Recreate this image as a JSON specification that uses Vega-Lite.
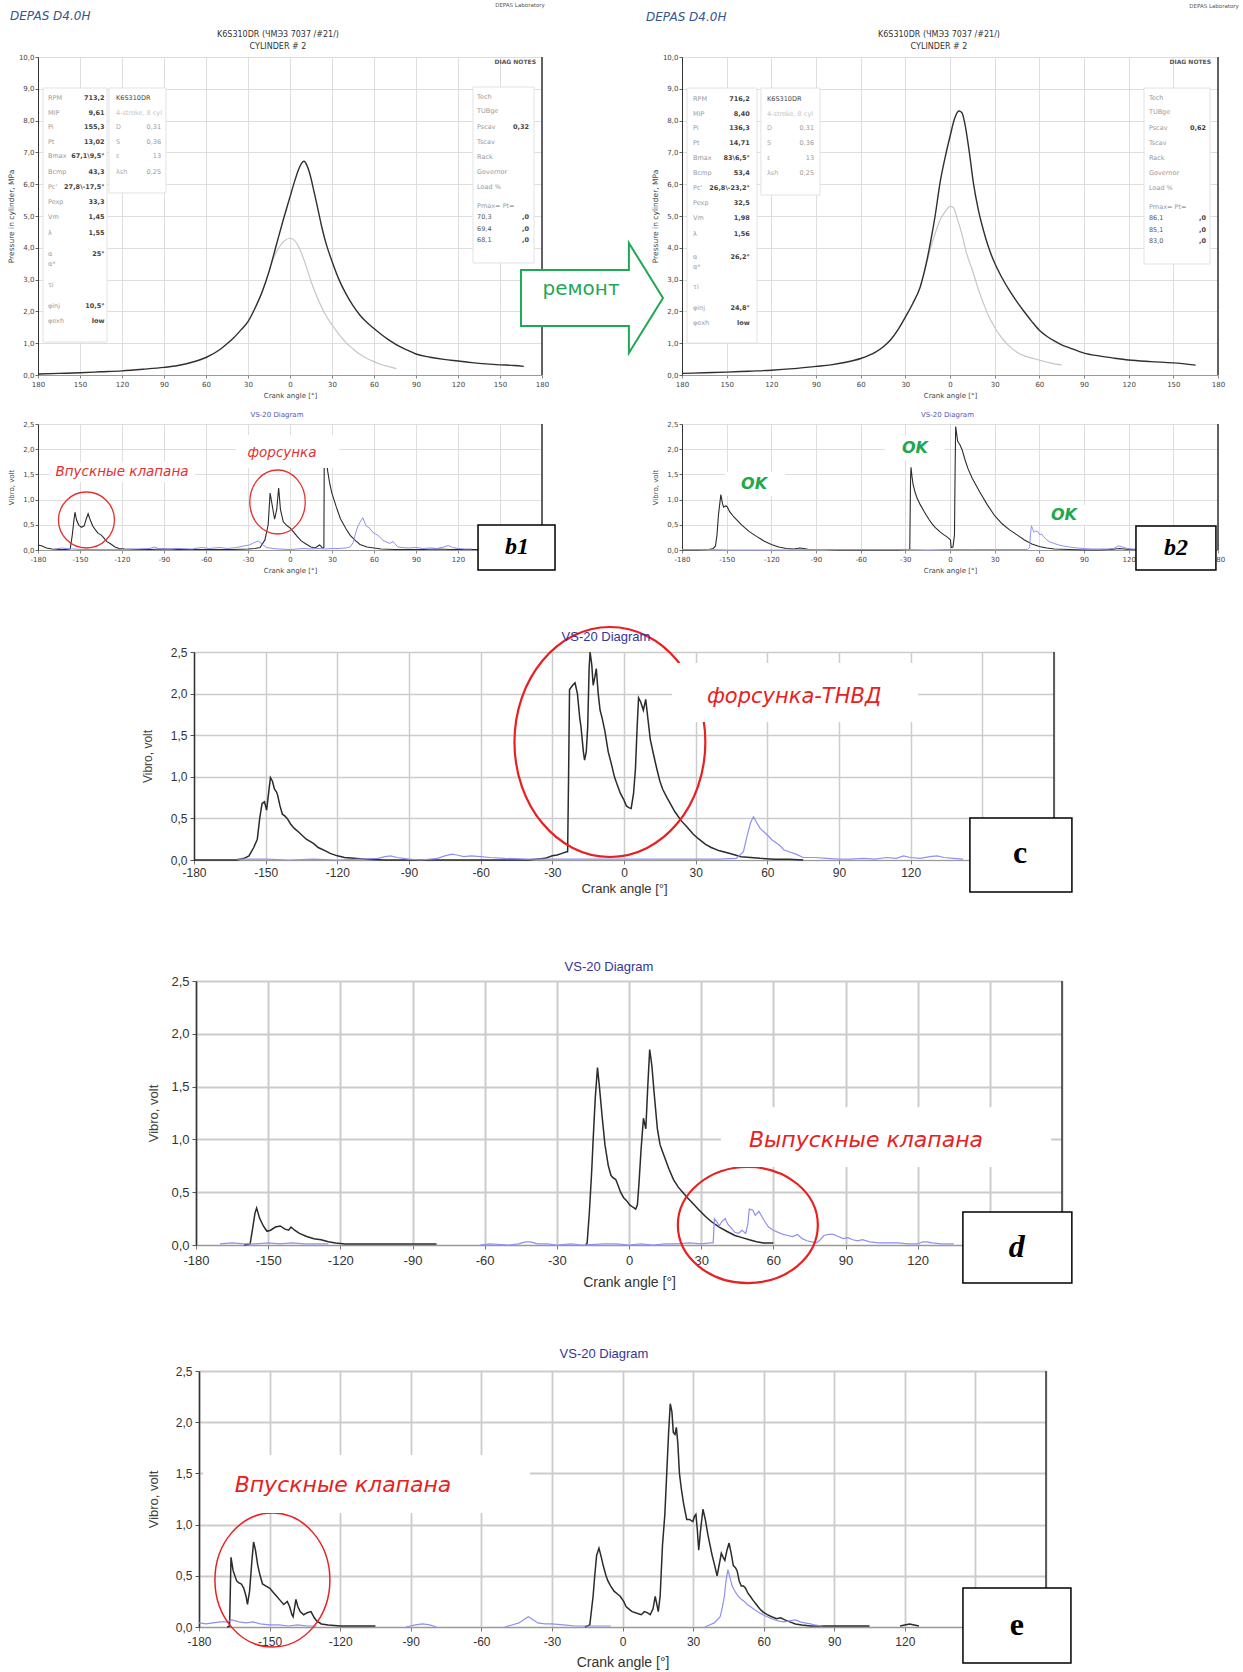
{
"$schema":"https://vega.github.io/schema/vega-lite/v6.json",
"autosize":{"type":"pad"},
"padding":{"left":7,"top":2,"right":2,"bottom":2},
"background":"white",
"config":{"view":{"stroke":null},"axis":{"labelFont":"DejaVu Sans","titleFont":"DejaVu Sans","titleFontWeight":"normal","labelFlush":false,"labelOverlap":false},"text":{"font":"DejaVu Sans"},"title":{"font":"DejaVu Sans","fontWeight":"normal"}},
"datasets":{
"one":[{}],
"p1":[
{"ch":"F","a":-180,"v":0.03},{"ch":"F","a":-165,"v":0.05},{"ch":"F","a":-150,"v":0.07},{"ch":"F","a":-135,"v":0.1},{"ch":"F","a":-120,"v":0.13},{"ch":"F","a":-105,"v":0.18},{"ch":"F","a":-90,"v":0.24},{"ch":"F","a":-80,"v":0.3},{"ch":"F","a":-70,"v":0.4},{"ch":"F","a":-60,"v":0.55},{"ch":"F","a":-50,"v":0.8},{"ch":"F","a":-45,"v":0.98},{"ch":"F","a":-40,"v":1.18},{"ch":"F","a":-35,"v":1.42},{"ch":"F","a":-30,"v":1.68},{"ch":"F","a":-25,"v":2.1},{"ch":"F","a":-20,"v":2.6},{"ch":"F","a":-15,"v":3.25},{"ch":"F","a":-10,"v":4.05},{"ch":"F","a":-5,"v":4.85},{"ch":"F","a":0,"v":5.6},{"ch":"F","a":3,"v":6.05},{"ch":"F","a":6,"v":6.45},{"ch":"F","a":9,"v":6.7},{"ch":"F","a":10,"v":6.72},{"ch":"F","a":12,"v":6.6},{"ch":"F","a":14,"v":6.35},{"ch":"F","a":17,"v":5.8},{"ch":"F","a":20,"v":5.2},{"ch":"F","a":23,"v":4.6},{"ch":"F","a":26,"v":4.1},{"ch":"F","a":30,"v":3.58},{"ch":"F","a":35,"v":3.0},{"ch":"F","a":40,"v":2.55},{"ch":"F","a":45,"v":2.18},{"ch":"F","a":50,"v":1.88},{"ch":"F","a":55,"v":1.65},{"ch":"F","a":60,"v":1.46},{"ch":"F","a":65,"v":1.28},{"ch":"F","a":70,"v":1.12},{"ch":"F","a":75,"v":0.98},{"ch":"F","a":80,"v":0.86},{"ch":"F","a":85,"v":0.76},{"ch":"F","a":90,"v":0.66},{"ch":"F","a":100,"v":0.56},{"ch":"F","a":110,"v":0.49},{"ch":"F","a":120,"v":0.44},{"ch":"F","a":130,"v":0.39},{"ch":"F","a":140,"v":0.35},{"ch":"F","a":150,"v":0.32},{"ch":"F","a":160,"v":0.3},{"ch":"F","a":167,"v":0.27},
{"ch":"M","a":-25,"v":2.1},{"ch":"M","a":-20,"v":2.6},{"ch":"M","a":-15,"v":3.25},{"ch":"M","a":-12,"v":3.65},{"ch":"M","a":-8,"v":4.0},{"ch":"M","a":-4,"v":4.22},{"ch":"M","a":0,"v":4.3},{"ch":"M","a":3,"v":4.24},{"ch":"M","a":6,"v":4.05},{"ch":"M","a":10,"v":3.62},{"ch":"M","a":15,"v":2.95},{"ch":"M","a":20,"v":2.38},{"ch":"M","a":25,"v":1.92},{"ch":"M","a":30,"v":1.58},{"ch":"M","a":35,"v":1.28},{"ch":"M","a":40,"v":1.02},{"ch":"M","a":45,"v":0.82},{"ch":"M","a":50,"v":0.65},{"ch":"M","a":55,"v":0.52},{"ch":"M","a":60,"v":0.42},{"ch":"M","a":65,"v":0.33},{"ch":"M","a":70,"v":0.27},{"ch":"M","a":76,"v":0.2}
],
"p2":[
{"ch":"F","a":-180,"v":0.05},{"ch":"F","a":-165,"v":0.07},{"ch":"F","a":-150,"v":0.09},{"ch":"F","a":-135,"v":0.12},{"ch":"F","a":-120,"v":0.15},{"ch":"F","a":-105,"v":0.2},{"ch":"F","a":-90,"v":0.27},{"ch":"F","a":-80,"v":0.32},{"ch":"F","a":-70,"v":0.4},{"ch":"F","a":-60,"v":0.52},{"ch":"F","a":-50,"v":0.72},{"ch":"F","a":-45,"v":0.88},{"ch":"F","a":-40,"v":1.1},{"ch":"F","a":-35,"v":1.42},{"ch":"F","a":-30,"v":1.82},{"ch":"F","a":-25,"v":2.25},{"ch":"F","a":-20,"v":2.77},{"ch":"F","a":-16,"v":3.5},{"ch":"F","a":-13,"v":4.2},{"ch":"F","a":-10,"v":5.0},{"ch":"F","a":-6.7,"v":6.04},{"ch":"F","a":-3,"v":6.9},{"ch":"F","a":0,"v":7.5},{"ch":"F","a":3,"v":8.05},{"ch":"F","a":6,"v":8.3},{"ch":"F","a":8,"v":8.25},{"ch":"F","a":10,"v":7.9},{"ch":"F","a":13,"v":7.0},{"ch":"F","a":15.7,"v":6.04},{"ch":"F","a":19,"v":5.2},{"ch":"F","a":22.4,"v":4.56},{"ch":"F","a":26,"v":4.0},{"ch":"F","a":30,"v":3.52},{"ch":"F","a":35,"v":3.05},{"ch":"F","a":40,"v":2.65},{"ch":"F","a":45,"v":2.3},{"ch":"F","a":50,"v":1.98},{"ch":"F","a":55,"v":1.68},{"ch":"F","a":60,"v":1.41},{"ch":"F","a":65,"v":1.22},{"ch":"F","a":70,"v":1.07},{"ch":"F","a":75,"v":0.95},{"ch":"F","a":80,"v":0.86},{"ch":"F","a":90,"v":0.69},{"ch":"F","a":100,"v":0.6},{"ch":"F","a":110,"v":0.53},{"ch":"F","a":120,"v":0.47},{"ch":"F","a":135,"v":0.42},{"ch":"F","a":150,"v":0.38},{"ch":"F","a":165,"v":0.31},
{"ch":"M","a":-20,"v":2.77},{"ch":"M","a":-16,"v":3.45},{"ch":"M","a":-13.4,"v":3.93},{"ch":"M","a":-10,"v":4.45},{"ch":"M","a":-6.7,"v":4.87},{"ch":"M","a":-3,"v":5.15},{"ch":"M","a":0,"v":5.3},{"ch":"M","a":2,"v":5.28},{"ch":"M","a":5,"v":4.9},{"ch":"M","a":7.8,"v":4.46},{"ch":"M","a":11,"v":3.85},{"ch":"M","a":15.7,"v":3.2},{"ch":"M","a":19,"v":2.7},{"ch":"M","a":22.4,"v":2.26},{"ch":"M","a":26,"v":1.85},{"ch":"M","a":30,"v":1.5},{"ch":"M","a":35,"v":1.15},{"ch":"M","a":40,"v":0.9},{"ch":"M","a":44.8,"v":0.72},{"ch":"M","a":50,"v":0.6},{"ch":"M","a":55,"v":0.53},{"ch":"M","a":60,"v":0.47},{"ch":"M","a":67,"v":0.38},{"ch":"M","a":75,"v":0.31}
],
"i1":[
{"box":"L","row":1,"label":"RPM","value":"713,2"},{"box":"L","row":2,"label":"MIP","value":"9,61"},{"box":"L","row":2.93,"label":"Pi","value":"155,3"},{"box":"L","row":3.93,"label":"Pt","value":"13,02"},{"box":"L","row":4.9,"label":"Bmax","value":"67,1\\9,5°"},{"box":"L","row":5.93,"label":"Bcmp","value":"43,3"},{"box":"L","row":6.93,"label":"Pc'","value":"27,8\\-17,5°"},{"box":"L","row":7.93,"label":"Pexp","value":"33,3"},{"box":"L","row":8.93,"label":"Vm","value":"1,45"},{"box":"L","row":10,"label":"λ","value":"1,55"},{"box":"L","row":11.4,"label":"α","value":"25°"},{"box":"L","row":12.1,"label":"α*","value":""},{"box":"L","row":13.5,"label":"τi","value":""},{"box":"L","row":14.9,"label":"φinj","value":"10,5°"},{"box":"L","row":15.9,"label":"φexh","value":"low"},
{"box":"M","row":1,"label":"K6S310DR","value":""},{"box":"M","row":2,"label":"4-stroke, 8 cyl","value":""},{"box":"M","row":2.93,"label":"D","value":"0,31"},{"box":"M","row":3.93,"label":"S","value":"0,36"},{"box":"M","row":4.9,"label":"ε","value":"13"},{"box":"M","row":5.93,"label":"λsh","value":"0,25"},
{"box":"R","row":0.95,"label":"Tech","value":""},{"box":"R","row":1.85,"label":"TUBge","value":""},{"box":"R","row":2.93,"label":"Pscav","value":"0,32"},{"box":"R","row":3.93,"label":"Tscav","value":""},{"box":"R","row":4.93,"label":"Rack","value":""},{"box":"R","row":5.93,"label":"Governor","value":""},{"box":"R","row":6.93,"label":"Load %","value":""},{"box":"R","row":8.2,"label":"Pmax=  Pt=","value":""},{"box":"R","row":8.95,"label":"70,3","value":",0"},{"box":"R","row":9.73,"label":"69,4","value":",0"},{"box":"R","row":10.47,"label":"68,1","value":",0"}
],
"i2":[
{"box":"L","row":1,"label":"RPM","value":"716,2"},{"box":"L","row":2,"label":"MIP","value":"8,40"},{"box":"L","row":2.93,"label":"Pi","value":"136,3"},{"box":"L","row":3.93,"label":"Pt","value":"14,71"},{"box":"L","row":4.9,"label":"Bmax","value":"83\\6,5°"},{"box":"L","row":5.93,"label":"Bcmp","value":"53,4"},{"box":"L","row":6.93,"label":"Pc'","value":"26,8\\-23,2°"},{"box":"L","row":7.93,"label":"Pexp","value":"32,5"},{"box":"L","row":8.93,"label":"Vm","value":"1,98"},{"box":"L","row":10,"label":"λ","value":"1,56"},{"box":"L","row":11.5,"label":"α","value":"26,2°"},{"box":"L","row":12.2,"label":"α*","value":""},{"box":"L","row":13.5,"label":"τi","value":""},{"box":"L","row":14.9,"label":"φinj","value":"24,8°"},{"box":"L","row":15.9,"label":"φexh","value":"low"},
{"box":"M","row":1,"label":"K6S310DR","value":""},{"box":"M","row":2,"label":"4-stroke, 8 cyl","value":""},{"box":"M","row":2.93,"label":"D","value":"0,31"},{"box":"M","row":3.93,"label":"S","value":"0,36"},{"box":"M","row":4.9,"label":"ε","value":"13"},{"box":"M","row":5.93,"label":"λsh","value":"0,25"},
{"box":"R","row":0.95,"label":"Tech","value":""},{"box":"R","row":1.85,"label":"TUBge","value":""},{"box":"R","row":2.93,"label":"Pscav","value":"0,62"},{"box":"R","row":3.93,"label":"Tscav","value":""},{"box":"R","row":4.93,"label":"Rack","value":""},{"box":"R","row":5.93,"label":"Governor","value":""},{"box":"R","row":6.93,"label":"Load %","value":""},{"box":"R","row":8.2,"label":"Pmax=  Pt=","value":""},{"box":"R","row":8.95,"label":"86,1","value":",0"},{"box":"R","row":9.73,"label":"85,1","value":",0"},{"box":"R","row":10.47,"label":"83,0","value":",0"}
],
"v1":[
{"ch":"A","seg":1,"a":-180,"v":0.1},{"ch":"A","seg":1,"a":-177,"v":0.08},{"ch":"A","seg":1,"a":-174,"v":0.04},{"ch":"A","seg":1,"a":-170,"v":0.02},{"ch":"A","seg":1,"a":-165,"v":0.01},{"ch":"A","seg":1,"a":-160,"v":0.01},{"ch":"A","seg":1,"a":-157,"v":0.02},{"ch":"A","seg":1,"a":-155.5,"v":0.3},{"ch":"A","seg":1,"a":-154.3,"v":0.6},{"ch":"A","seg":1,"a":-153.6,"v":0.75},{"ch":"A","seg":1,"a":-152.5,"v":0.6},{"ch":"A","seg":1,"a":-151,"v":0.5},{"ch":"A","seg":1,"a":-149,"v":0.45},{"ch":"A","seg":1,"a":-147,"v":0.48},{"ch":"A","seg":1,"a":-145.5,"v":0.62},{"ch":"A","seg":1,"a":-144.2,"v":0.72},{"ch":"A","seg":1,"a":-143,"v":0.62},{"ch":"A","seg":1,"a":-141,"v":0.48},{"ch":"A","seg":1,"a":-139,"v":0.4},{"ch":"A","seg":1,"a":-137,"v":0.33},{"ch":"A","seg":1,"a":-135,"v":0.3},{"ch":"A","seg":1,"a":-133,"v":0.24},{"ch":"A","seg":1,"a":-131,"v":0.17},{"ch":"A","seg":1,"a":-128,"v":0.12},{"ch":"A","seg":1,"a":-125,"v":0.06},{"ch":"A","seg":1,"a":-122,"v":0.03},{"ch":"A","seg":1,"a":-118,"v":0.02},{"ch":"A","seg":1,"a":-110,"v":0.01},{"ch":"A","seg":1,"a":-100,"v":0.01},{"ch":"A","seg":1,"a":-90,"v":0.02},{"ch":"A","seg":1,"a":-80,"v":0.01},{"ch":"A","seg":1,"a":-70,"v":0.01},{"ch":"A","seg":1,"a":-60,"v":0.01},{"ch":"A","seg":1,"a":-50,"v":0.01},{"ch":"A","seg":1,"a":-40,"v":0.01},{"ch":"A","seg":1,"a":-30,"v":0.02},{"ch":"A","seg":1,"a":-25,"v":0.03},{"ch":"A","seg":1,"a":-21.4,"v":0.05},{"ch":"A","seg":1,"a":-17.9,"v":0.2},{"ch":"A","seg":1,"a":-15.6,"v":0.5},{"ch":"A","seg":1,"a":-14.2,"v":1.13},{"ch":"A","seg":1,"a":-12.8,"v":0.9},{"ch":"A","seg":1,"a":-11,"v":0.61},{"ch":"A","seg":1,"a":-9.5,"v":0.8},{"ch":"A","seg":1,"a":-8.1,"v":1.23},{"ch":"A","seg":1,"a":-6.8,"v":0.8},{"ch":"A","seg":1,"a":-4.8,"v":0.56},{"ch":"A","seg":1,"a":-2,"v":0.48},{"ch":"A","seg":1,"a":0,"v":0.44},{"ch":"A","seg":1,"a":2.5,"v":0.36},{"ch":"A","seg":1,"a":4.8,"v":0.28},{"ch":"A","seg":1,"a":8,"v":0.18},{"ch":"A","seg":1,"a":12,"v":0.11},{"ch":"A","seg":1,"a":15,"v":0.06},{"ch":"A","seg":1,"a":18,"v":0.04},{"ch":"A","seg":1,"a":20,"v":0.08},{"ch":"A","seg":1,"a":21,"v":0.1},{"ch":"A","seg":1,"a":22,"v":0.08},{"ch":"A","seg":1,"a":22.9,"v":0.04},{"ch":"A","seg":1,"a":24.2,"v":0.05},{"ch":"A","seg":1,"a":24.5,"v":2.0},{"ch":"A","seg":1,"a":25.5,"v":1.85},{"ch":"A","seg":1,"a":27,"v":1.55},{"ch":"A","seg":1,"a":28.5,"v":1.3},{"ch":"A","seg":1,"a":30,"v":1.12},{"ch":"A","seg":1,"a":33,"v":0.86},{"ch":"A","seg":1,"a":36,"v":0.62},{"ch":"A","seg":1,"a":40,"v":0.42},{"ch":"A","seg":1,"a":43,"v":0.29},{"ch":"A","seg":1,"a":47,"v":0.18},{"ch":"A","seg":1,"a":50,"v":0.11},{"ch":"A","seg":1,"a":55,"v":0.06},{"ch":"A","seg":1,"a":60,"v":0.04},{"ch":"A","seg":1,"a":65,"v":0.02},{"ch":"A","seg":1,"a":75,"v":0.01},{"ch":"A","seg":1,"a":85,"v":0.01},{"ch":"A","seg":1,"a":95,"v":0.01},{"ch":"A","seg":1,"a":105,"v":0.02},{"ch":"A","seg":1,"a":115,"v":0.01},{"ch":"A","seg":1,"a":125,"v":0.01},{"ch":"A","seg":1,"a":135,"v":0.01},
{"ch":"B","seg":1,"a":-168,"v":0.02},{"ch":"B","seg":1,"a":-163,"v":0.04},{"ch":"B","seg":1,"a":-160,"v":0.03},{"ch":"B","seg":1,"a":-155,"v":0.02},{"ch":"B","seg":1,"a":-150,"v":0.01},{"ch":"B","seg":1,"a":-140,"v":0.01},{"ch":"B","seg":1,"a":-130,"v":0.01},{"ch":"B","seg":1,"a":-120,"v":0.01},{"ch":"B","seg":1,"a":-110,"v":0.02},{"ch":"B","seg":1,"a":-100,"v":0.03},{"ch":"B","seg":1,"a":-97,"v":0.06},{"ch":"B","seg":1,"a":-94,"v":0.03},{"ch":"B","seg":1,"a":-88,"v":0.02},{"ch":"B","seg":1,"a":-80,"v":0.03},{"ch":"B","seg":1,"a":-70,"v":0.02},{"ch":"B","seg":1,"a":-63,"v":0.05},{"ch":"B","seg":1,"a":-58,"v":0.03},{"ch":"B","seg":1,"a":-50,"v":0.05},{"ch":"B","seg":1,"a":-45,"v":0.03},{"ch":"B","seg":1,"a":-38,"v":0.05},{"ch":"B","seg":1,"a":-33,"v":0.08},{"ch":"B","seg":1,"a":-29,"v":0.1},{"ch":"B","seg":1,"a":-26,"v":0.14},{"ch":"B","seg":1,"a":-22.8,"v":0.18},{"ch":"B","seg":1,"a":-20,"v":0.12},{"ch":"B","seg":1,"a":-17,"v":0.05},{"ch":"B","seg":1,"a":-12,"v":0.03},{"ch":"B","seg":1,"a":-8,"v":0.02},{"ch":"B","seg":1,"a":0,"v":0.01},{"ch":"B","seg":1,"a":5,"v":0.02},{"ch":"B","seg":1,"a":10,"v":0.03},{"ch":"B","seg":1,"a":15,"v":0.02},{"ch":"B","seg":1,"a":20,"v":0.03},{"ch":"B","seg":1,"a":25,"v":0.02},{"ch":"B","seg":1,"a":30,"v":0.03},{"ch":"B","seg":1,"a":35,"v":0.03},{"ch":"B","seg":1,"a":40,"v":0.04},{"ch":"B","seg":1,"a":43,"v":0.06},{"ch":"B","seg":1,"a":45.2,"v":0.15},{"ch":"B","seg":1,"a":47,"v":0.35},{"ch":"B","seg":1,"a":48.6,"v":0.48},{"ch":"B","seg":1,"a":50,"v":0.55},{"ch":"B","seg":1,"a":52,"v":0.64},{"ch":"B","seg":1,"a":54.3,"v":0.48},{"ch":"B","seg":1,"a":57,"v":0.43},{"ch":"B","seg":1,"a":58.7,"v":0.36},{"ch":"B","seg":1,"a":61,"v":0.32},{"ch":"B","seg":1,"a":63.3,"v":0.28},{"ch":"B","seg":1,"a":66,"v":0.2},{"ch":"B","seg":1,"a":68,"v":0.17},{"ch":"B","seg":1,"a":71.3,"v":0.13},{"ch":"B","seg":1,"a":73.6,"v":0.17},{"ch":"B","seg":1,"a":75,"v":0.12},{"ch":"B","seg":1,"a":77,"v":0.06},{"ch":"B","seg":1,"a":80,"v":0.05},{"ch":"B","seg":1,"a":85,"v":0.04},{"ch":"B","seg":1,"a":90,"v":0.05},{"ch":"B","seg":1,"a":95,"v":0.03},{"ch":"B","seg":1,"a":100,"v":0.04},{"ch":"B","seg":1,"a":105,"v":0.03},{"ch":"B","seg":1,"a":110,"v":0.06},{"ch":"B","seg":1,"a":113,"v":0.09},{"ch":"B","seg":1,"a":116,"v":0.05},{"ch":"B","seg":1,"a":120,"v":0.03},{"ch":"B","seg":1,"a":125,"v":0.02},{"ch":"B","seg":1,"a":130,"v":0.02}
],
"v2":[
{"ch":"A","seg":1,"a":-180,"v":0},{"ch":"A","seg":1,"a":-170,"v":0},{"ch":"A","seg":1,"a":-162,"v":0.01},{"ch":"A","seg":1,"a":-159,"v":0.03},{"ch":"A","seg":1,"a":-157.5,"v":0.08},{"ch":"A","seg":1,"a":-156.5,"v":0.3},{"ch":"A","seg":1,"a":-155.5,"v":0.7},{"ch":"A","seg":1,"a":-154.5,"v":0.95},{"ch":"A","seg":1,"a":-153.9,"v":1.1},{"ch":"A","seg":1,"a":-152.8,"v":0.92},{"ch":"A","seg":1,"a":-152,"v":0.85},{"ch":"A","seg":1,"a":-150.5,"v":0.88},{"ch":"A","seg":1,"a":-149.5,"v":0.85},{"ch":"A","seg":1,"a":-148,"v":0.76},{"ch":"A","seg":1,"a":-145,"v":0.65},{"ch":"A","seg":1,"a":-140,"v":0.5},{"ch":"A","seg":1,"a":-135,"v":0.37},{"ch":"A","seg":1,"a":-130,"v":0.27},{"ch":"A","seg":1,"a":-125,"v":0.18},{"ch":"A","seg":1,"a":-120,"v":0.11},{"ch":"A","seg":1,"a":-115,"v":0.06},{"ch":"A","seg":1,"a":-110,"v":0.03},{"ch":"A","seg":1,"a":-105,"v":0.02},{"ch":"A","seg":1,"a":-101,"v":0.04},{"ch":"A","seg":1,"a":-98,"v":0.03},{"ch":"A","seg":1,"a":-95,"v":0.01},{"ch":"A","seg":1,"a":-85,"v":0.01},{"ch":"A","seg":1,"a":-75,"v":0},{"ch":"A","seg":1,"a":-60,"v":0},{"ch":"A","seg":1,"a":-45,"v":0},{"ch":"A","seg":1,"a":-35,"v":0},{"ch":"A","seg":1,"a":-28,"v":0.01},{"ch":"A","seg":1,"a":-27,"v":0.02},{"ch":"A","seg":1,"a":-26.8,"v":0.6},{"ch":"A","seg":1,"a":-26.5,"v":1.4},{"ch":"A","seg":1,"a":-26.2,"v":1.64},{"ch":"A","seg":1,"a":-25.5,"v":1.45},{"ch":"A","seg":1,"a":-24.8,"v":1.3},{"ch":"A","seg":1,"a":-23.5,"v":1.15},{"ch":"A","seg":1,"a":-22,"v":1.02},{"ch":"A","seg":1,"a":-20,"v":0.9},{"ch":"A","seg":1,"a":-17.3,"v":0.76},{"ch":"A","seg":1,"a":-14,"v":0.6},{"ch":"A","seg":1,"a":-12,"v":0.52},{"ch":"A","seg":1,"a":-10,"v":0.45},{"ch":"A","seg":1,"a":-6.7,"v":0.36},{"ch":"A","seg":1,"a":-4,"v":0.3},{"ch":"A","seg":1,"a":-2,"v":0.26},{"ch":"A","seg":1,"a":-0.8,"v":0.23},{"ch":"A","seg":1,"a":0.3,"v":0.2},{"ch":"A","seg":1,"a":0.8,"v":0.05},{"ch":"A","seg":1,"a":2,"v":0.06},{"ch":"A","seg":1,"a":3,"v":0.3},{"ch":"A","seg":1,"a":3.4,"v":1.5},{"ch":"A","seg":1,"a":3.8,"v":2.45},{"ch":"A","seg":1,"a":4.5,"v":2.3},{"ch":"A","seg":1,"a":5.2,"v":2.15},{"ch":"A","seg":1,"a":6.5,"v":2.1},{"ch":"A","seg":1,"a":8,"v":2.0},{"ch":"A","seg":1,"a":10,"v":1.8},{"ch":"A","seg":1,"a":12,"v":1.62},{"ch":"A","seg":1,"a":15,"v":1.42},{"ch":"A","seg":1,"a":20,"v":1.15},{"ch":"A","seg":1,"a":25,"v":0.9},{"ch":"A","seg":1,"a":30,"v":0.68},{"ch":"A","seg":1,"a":35,"v":0.52},{"ch":"A","seg":1,"a":40,"v":0.4},{"ch":"A","seg":1,"a":45,"v":0.3},{"ch":"A","seg":1,"a":50,"v":0.2},{"ch":"A","seg":1,"a":55,"v":0.12},{"ch":"A","seg":1,"a":60,"v":0.07},{"ch":"A","seg":1,"a":65,"v":0.04},{"ch":"A","seg":1,"a":70,"v":0.02},{"ch":"A","seg":1,"a":80,"v":0.01},{"ch":"A","seg":1,"a":90,"v":0},{"ch":"A","seg":1,"a":100,"v":0},{"ch":"A","seg":1,"a":108,"v":0.01},{"ch":"A","seg":1,"a":114,"v":0.03},{"ch":"A","seg":1,"a":117,"v":0.02},{"ch":"A","seg":1,"a":120,"v":0.01},{"ch":"A","seg":1,"a":130,"v":0},
{"ch":"B","seg":1,"a":-180,"v":0.01},{"ch":"B","seg":1,"a":-172,"v":0.01},{"ch":"B","seg":1,"a":-165,"v":0.01},{"ch":"B","seg":1,"a":-150,"v":0},{"ch":"B","seg":1,"a":-130,"v":0},{"ch":"B","seg":1,"a":-110,"v":0},{"ch":"B","seg":1,"a":-90,"v":0.01},{"ch":"B","seg":1,"a":-75,"v":0.01},{"ch":"B","seg":1,"a":-60,"v":0.01},{"ch":"B","seg":1,"a":-45,"v":0.01},{"ch":"B","seg":1,"a":-30,"v":0.01},{"ch":"B","seg":1,"a":-15,"v":0},{"ch":"B","seg":1,"a":0,"v":0.01},{"ch":"B","seg":1,"a":15,"v":0.01},{"ch":"B","seg":1,"a":30,"v":0.01},{"ch":"B","seg":1,"a":45,"v":0.01},{"ch":"B","seg":1,"a":52,"v":0.01},{"ch":"B","seg":1,"a":53.5,"v":0.05},{"ch":"B","seg":1,"a":54,"v":0.3},{"ch":"B","seg":1,"a":54.7,"v":0.48},{"ch":"B","seg":1,"a":55.5,"v":0.42},{"ch":"B","seg":1,"a":56.5,"v":0.35},{"ch":"B","seg":1,"a":57.5,"v":0.38},{"ch":"B","seg":1,"a":59,"v":0.36},{"ch":"B","seg":1,"a":60.5,"v":0.3},{"ch":"B","seg":1,"a":61.5,"v":0.32},{"ch":"B","seg":1,"a":63,"v":0.26},{"ch":"B","seg":1,"a":65,"v":0.2},{"ch":"B","seg":1,"a":67,"v":0.16},{"ch":"B","seg":1,"a":70,"v":0.13},{"ch":"B","seg":1,"a":73,"v":0.1},{"ch":"B","seg":1,"a":76,"v":0.08},{"ch":"B","seg":1,"a":80,"v":0.06},{"ch":"B","seg":1,"a":85,"v":0.04},{"ch":"B","seg":1,"a":90,"v":0.03},{"ch":"B","seg":1,"a":95,"v":0.02},{"ch":"B","seg":1,"a":100,"v":0.02},{"ch":"B","seg":1,"a":105,"v":0.02},{"ch":"B","seg":1,"a":110,"v":0.03},{"ch":"B","seg":1,"a":113,"v":0.08},{"ch":"B","seg":1,"a":116,"v":0.06},{"ch":"B","seg":1,"a":119,"v":0.03},{"ch":"B","seg":1,"a":123,"v":0.02},{"ch":"B","seg":1,"a":130,"v":0.01}
],
"vc":[
{"ch":"A","seg":1,"a":-180,"v":0},{"ch":"A","seg":1,"a":-170,"v":0},{"ch":"A","seg":1,"a":-162,"v":0},{"ch":"A","seg":1,"a":-159,"v":0.02},{"ch":"A","seg":1,"a":-157,"v":0.05},{"ch":"A","seg":1,"a":-155,"v":0.15},{"ch":"A","seg":1,"a":-153.5,"v":0.25},{"ch":"A","seg":1,"a":-152.5,"v":0.5},{"ch":"A","seg":1,"a":-151.5,"v":0.68},{"ch":"A","seg":1,"a":-150.5,"v":0.7},{"ch":"A","seg":1,"a":-149.6,"v":0.6},{"ch":"A","seg":1,"a":-149,"v":0.75},{"ch":"A","seg":1,"a":-148,"v":0.99},{"ch":"A","seg":1,"a":-147.2,"v":0.95},{"ch":"A","seg":1,"a":-146.3,"v":0.85},{"ch":"A","seg":1,"a":-145.5,"v":0.82},{"ch":"A","seg":1,"a":-145,"v":0.78},{"ch":"A","seg":1,"a":-144,"v":0.65},{"ch":"A","seg":1,"a":-143,"v":0.55},{"ch":"A","seg":1,"a":-142,"v":0.53},{"ch":"A","seg":1,"a":-141,"v":0.5},{"ch":"A","seg":1,"a":-139.5,"v":0.43},{"ch":"A","seg":1,"a":-138,"v":0.38},{"ch":"A","seg":1,"a":-136,"v":0.33},{"ch":"A","seg":1,"a":-133,"v":0.25},{"ch":"A","seg":1,"a":-130,"v":0.2},{"ch":"A","seg":1,"a":-128,"v":0.15},{"ch":"A","seg":1,"a":-125,"v":0.11},{"ch":"A","seg":1,"a":-123,"v":0.08},{"ch":"A","seg":1,"a":-120,"v":0.05},{"ch":"A","seg":1,"a":-117,"v":0.03},{"ch":"A","seg":1,"a":-113,"v":0.02},{"ch":"A","seg":1,"a":-108,"v":0.01},{"ch":"A","seg":1,"a":-100,"v":0},{"ch":"A","seg":1,"a":-90,"v":0},{"ch":"A","seg":1,"a":-80,"v":0},{"ch":"A","seg":1,"a":-70,"v":0},{"ch":"A","seg":1,"a":-60,"v":0},{"ch":"A","seg":1,"a":-50,"v":0},{"ch":"A","seg":1,"a":-40,"v":0},{"ch":"A","seg":1,"a":-33,"v":0.02},{"ch":"A","seg":1,"a":-30,"v":0.05},{"ch":"A","seg":1,"a":-28,"v":0.06},{"ch":"A","seg":1,"a":-26,"v":0.08},{"ch":"A","seg":1,"a":-24,"v":0.1},{"ch":"A","seg":1,"a":-23.6,"v":0.1},{"ch":"A","seg":1,"a":-23.2,"v":1.0},{"ch":"A","seg":1,"a":-22.8,"v":2.05},{"ch":"A","seg":1,"a":-21.5,"v":2.1},{"ch":"A","seg":1,"a":-20.5,"v":2.13},{"ch":"A","seg":1,"a":-19.5,"v":2.0},{"ch":"A","seg":1,"a":-18.5,"v":1.7},{"ch":"A","seg":1,"a":-18,"v":1.6},{"ch":"A","seg":1,"a":-17,"v":1.3},{"ch":"A","seg":1,"a":-16.5,"v":1.2},{"ch":"A","seg":1,"a":-15.8,"v":1.3},{"ch":"A","seg":1,"a":-15.2,"v":1.6},{"ch":"A","seg":1,"a":-14.6,"v":2.3},{"ch":"A","seg":1,"a":-14.2,"v":2.5},{"ch":"A","seg":1,"a":-13.5,"v":2.35},{"ch":"A","seg":1,"a":-12.9,"v":2.1},{"ch":"A","seg":1,"a":-12.2,"v":2.2},{"ch":"A","seg":1,"a":-11.6,"v":2.3},{"ch":"A","seg":1,"a":-10.8,"v":2.0},{"ch":"A","seg":1,"a":-10,"v":1.8},{"ch":"A","seg":1,"a":-9.1,"v":1.7},{"ch":"A","seg":1,"a":-8,"v":1.55},{"ch":"A","seg":1,"a":-6.6,"v":1.3},{"ch":"A","seg":1,"a":-5.5,"v":1.18},{"ch":"A","seg":1,"a":-4,"v":1.0},{"ch":"A","seg":1,"a":-2.8,"v":0.9},{"ch":"A","seg":1,"a":-1.5,"v":0.8},{"ch":"A","seg":1,"a":0,"v":0.72},{"ch":"A","seg":1,"a":1,"v":0.65},{"ch":"A","seg":1,"a":2,"v":0.63},{"ch":"A","seg":1,"a":3,"v":0.62},{"ch":"A","seg":1,"a":4,"v":0.8},{"ch":"A","seg":1,"a":4.8,"v":1.1},{"ch":"A","seg":1,"a":5.5,"v":1.6},{"ch":"A","seg":1,"a":6.1,"v":1.95},{"ch":"A","seg":1,"a":7,"v":1.9},{"ch":"A","seg":1,"a":8.1,"v":1.8},{"ch":"A","seg":1,"a":9.1,"v":1.93},{"ch":"A","seg":1,"a":10,"v":1.7},{"ch":"A","seg":1,"a":11,"v":1.45},{"ch":"A","seg":1,"a":12.5,"v":1.25},{"ch":"A","seg":1,"a":13.7,"v":1.1},{"ch":"A","seg":1,"a":15,"v":0.95},{"ch":"A","seg":1,"a":16.2,"v":0.85},{"ch":"A","seg":1,"a":18,"v":0.75},{"ch":"A","seg":1,"a":21.3,"v":0.58},{"ch":"A","seg":1,"a":24,"v":0.47},{"ch":"A","seg":1,"a":26.3,"v":0.4},{"ch":"A","seg":1,"a":29,"v":0.31},{"ch":"A","seg":1,"a":31.4,"v":0.25},{"ch":"A","seg":1,"a":34,"v":0.19},{"ch":"A","seg":1,"a":36.5,"v":0.15},{"ch":"A","seg":1,"a":40,"v":0.11},{"ch":"A","seg":1,"a":44,"v":0.08},{"ch":"A","seg":1,"a":49,"v":0.04},{"ch":"A","seg":1,"a":53,"v":0.03},{"ch":"A","seg":1,"a":57,"v":0.02},{"ch":"A","seg":1,"a":63,"v":0.01},{"ch":"A","seg":1,"a":69,"v":0.01},{"ch":"A","seg":1,"a":75,"v":0},
{"ch":"B","seg":1,"a":-162,"v":0.01},{"ch":"B","seg":1,"a":-150,"v":0.01},{"ch":"B","seg":1,"a":-140,"v":0},{"ch":"B","seg":1,"a":-130,"v":0.01},{"ch":"B","seg":1,"a":-120,"v":0},{"ch":"B","seg":1,"a":-110,"v":0.01},{"ch":"B","seg":1,"a":-103,"v":0.02},{"ch":"B","seg":1,"a":-100,"v":0.04},{"ch":"B","seg":1,"a":-97.7,"v":0.05},{"ch":"B","seg":1,"a":-95,"v":0.03},{"ch":"B","seg":1,"a":-90,"v":0.01},{"ch":"B","seg":1,"a":-85,"v":0},{"ch":"B","seg":1,"a":-78,"v":0.02},{"ch":"B","seg":1,"a":-75,"v":0.05},{"ch":"B","seg":1,"a":-72,"v":0.07},{"ch":"B","seg":1,"a":-70,"v":0.06},{"ch":"B","seg":1,"a":-67,"v":0.04},{"ch":"B","seg":1,"a":-64,"v":0.05},{"ch":"B","seg":1,"a":-60,"v":0.04},{"ch":"B","seg":1,"a":-56,"v":0.03},{"ch":"B","seg":1,"a":-50,"v":0.02},{"ch":"B","seg":1,"a":-40,"v":0.01},{"ch":"B","seg":1,"a":-30,"v":0.01},{"ch":"B","seg":1,"a":-20,"v":0.01},{"ch":"B","seg":1,"a":-10,"v":0.01},{"ch":"B","seg":1,"a":0,"v":0.01},{"ch":"B","seg":1,"a":10,"v":0.01},{"ch":"B","seg":1,"a":20,"v":0.01},{"ch":"B","seg":1,"a":30,"v":0.01},{"ch":"B","seg":1,"a":40,"v":0.01},{"ch":"B","seg":1,"a":47,"v":0.02},{"ch":"B","seg":1,"a":50,"v":0.1},{"ch":"B","seg":1,"a":51.6,"v":0.3},{"ch":"B","seg":1,"a":53,"v":0.45},{"ch":"B","seg":1,"a":54.2,"v":0.52},{"ch":"B","seg":1,"a":55.5,"v":0.45},{"ch":"B","seg":1,"a":57,"v":0.38},{"ch":"B","seg":1,"a":58.5,"v":0.34},{"ch":"B","seg":1,"a":60,"v":0.3},{"ch":"B","seg":1,"a":62,"v":0.24},{"ch":"B","seg":1,"a":65,"v":0.18},{"ch":"B","seg":1,"a":67,"v":0.12},{"ch":"B","seg":1,"a":70,"v":0.09},{"ch":"B","seg":1,"a":72,"v":0.07},{"ch":"B","seg":1,"a":75,"v":0.03},{"ch":"B","seg":1,"a":80,"v":0.03},{"ch":"B","seg":1,"a":85,"v":0.02},{"ch":"B","seg":1,"a":90,"v":0.01},{"ch":"B","seg":1,"a":95,"v":0.01},{"ch":"B","seg":1,"a":100,"v":0.02},{"ch":"B","seg":1,"a":105,"v":0.01},{"ch":"B","seg":1,"a":110,"v":0.03},{"ch":"B","seg":1,"a":114,"v":0.02},{"ch":"B","seg":1,"a":117,"v":0.05},{"ch":"B","seg":1,"a":120,"v":0.03},{"ch":"B","seg":1,"a":124,"v":0.02},{"ch":"B","seg":1,"a":128,"v":0.04},{"ch":"B","seg":1,"a":131,"v":0.05},{"ch":"B","seg":1,"a":134,"v":0.03},{"ch":"B","seg":1,"a":138,"v":0.02},{"ch":"B","seg":1,"a":142,"v":0.01}
],
"vd":[
{"ch":"A","seg":1,"a":-160,"v":0},{"ch":"A","seg":1,"a":-157.5,"v":0.01},{"ch":"A","seg":1,"a":-156.5,"v":0.15},{"ch":"A","seg":1,"a":-155.5,"v":0.3},{"ch":"A","seg":1,"a":-154.8,"v":0.35},{"ch":"A","seg":1,"a":-153.5,"v":0.25},{"ch":"A","seg":1,"a":-152,"v":0.18},{"ch":"A","seg":1,"a":-150.5,"v":0.13},{"ch":"A","seg":1,"a":-149,"v":0.14},{"ch":"A","seg":1,"a":-147,"v":0.17},{"ch":"A","seg":1,"a":-145,"v":0.18},{"ch":"A","seg":1,"a":-143,"v":0.15},{"ch":"A","seg":1,"a":-141.5,"v":0.14},{"ch":"A","seg":1,"a":-140.5,"v":0.17},{"ch":"A","seg":1,"a":-139,"v":0.14},{"ch":"A","seg":1,"a":-137,"v":0.11},{"ch":"A","seg":1,"a":-134,"v":0.08},{"ch":"A","seg":1,"a":-131,"v":0.06},{"ch":"A","seg":1,"a":-128,"v":0.05},{"ch":"A","seg":1,"a":-125,"v":0.03},{"ch":"A","seg":1,"a":-122,"v":0.02},{"ch":"A","seg":1,"a":-118,"v":0.01},{"ch":"A","seg":1,"a":-110,"v":0.01},{"ch":"A","seg":1,"a":-100,"v":0.01},{"ch":"A","seg":1,"a":-90,"v":0.01},{"ch":"A","seg":1,"a":-80,"v":0.01},
{"ch":"A","seg":2,"a":-18,"v":0},{"ch":"A","seg":2,"a":-17.4,"v":0.02},{"ch":"A","seg":2,"a":-16.5,"v":0.3},{"ch":"A","seg":2,"a":-15.5,"v":0.7},{"ch":"A","seg":2,"a":-14.9,"v":1.0},{"ch":"A","seg":2,"a":-14,"v":1.4},{"ch":"A","seg":2,"a":-13.1,"v":1.68},{"ch":"A","seg":2,"a":-12.3,"v":1.5},{"ch":"A","seg":2,"a":-11.1,"v":1.2},{"ch":"A","seg":2,"a":-10,"v":0.95},{"ch":"A","seg":2,"a":-8.6,"v":0.75},{"ch":"A","seg":2,"a":-7.5,"v":0.66},{"ch":"A","seg":2,"a":-6.8,"v":0.64},{"ch":"A","seg":2,"a":-5.5,"v":0.62},{"ch":"A","seg":2,"a":-4.8,"v":0.58},{"ch":"A","seg":2,"a":-3.5,"v":0.5},{"ch":"A","seg":2,"a":-2.3,"v":0.45},{"ch":"A","seg":2,"a":-1,"v":0.42},{"ch":"A","seg":2,"a":0.3,"v":0.38},{"ch":"A","seg":2,"a":1.5,"v":0.36},{"ch":"A","seg":2,"a":2.8,"v":0.34},{"ch":"A","seg":2,"a":3.5,"v":0.38},{"ch":"A","seg":2,"a":4.2,"v":0.6},{"ch":"A","seg":2,"a":5,"v":0.9},{"ch":"A","seg":2,"a":6,"v":1.2},{"ch":"A","seg":2,"a":6.5,"v":1.15},{"ch":"A","seg":2,"a":7,"v":1.1},{"ch":"A","seg":2,"a":7.8,"v":1.5},{"ch":"A","seg":2,"a":8.6,"v":1.85},{"ch":"A","seg":2,"a":9.5,"v":1.7},{"ch":"A","seg":2,"a":10.6,"v":1.4},{"ch":"A","seg":2,"a":11.8,"v":1.1},{"ch":"A","seg":2,"a":12.9,"v":0.95},{"ch":"A","seg":2,"a":14,"v":0.88},{"ch":"A","seg":2,"a":15.3,"v":0.8},{"ch":"A","seg":2,"a":16.6,"v":0.72},{"ch":"A","seg":2,"a":18.5,"v":0.62},{"ch":"A","seg":2,"a":20.4,"v":0.55},{"ch":"A","seg":2,"a":22.3,"v":0.5},{"ch":"A","seg":2,"a":24.2,"v":0.45},{"ch":"A","seg":2,"a":26.7,"v":0.39},{"ch":"A","seg":2,"a":29.2,"v":0.33},{"ch":"A","seg":2,"a":31.8,"v":0.27},{"ch":"A","seg":2,"a":34.3,"v":0.22},{"ch":"A","seg":2,"a":37.5,"v":0.17},{"ch":"A","seg":2,"a":40.6,"v":0.13},{"ch":"A","seg":2,"a":44,"v":0.09},{"ch":"A","seg":2,"a":47,"v":0.07},{"ch":"A","seg":2,"a":50,"v":0.05},{"ch":"A","seg":2,"a":53,"v":0.03},{"ch":"A","seg":2,"a":56,"v":0.02},{"ch":"A","seg":2,"a":60,"v":0.02},
{"ch":"B","seg":1,"a":-170,"v":0.01},{"ch":"B","seg":1,"a":-165,"v":0.02},{"ch":"B","seg":1,"a":-160,"v":0.01},{"ch":"B","seg":1,"a":-155,"v":0.01},{"ch":"B","seg":1,"a":-150,"v":0.02},{"ch":"B","seg":1,"a":-145,"v":0.01},{"ch":"B","seg":1,"a":-140,"v":0.02},{"ch":"B","seg":1,"a":-135,"v":0.01},{"ch":"B","seg":1,"a":-130,"v":0.01},{"ch":"B","seg":1,"a":-125,"v":0.01},
{"ch":"B","seg":2,"a":-62,"v":0},{"ch":"B","seg":2,"a":-58,"v":0.01},{"ch":"B","seg":2,"a":-50,"v":0},{"ch":"B","seg":2,"a":-46,"v":0.01},{"ch":"B","seg":2,"a":-43,"v":0.03},{"ch":"B","seg":2,"a":-41,"v":0.03},{"ch":"B","seg":2,"a":-38,"v":0.01},{"ch":"B","seg":2,"a":-34,"v":0.01},{"ch":"B","seg":2,"a":-30,"v":0},{"ch":"B","seg":2,"a":-24,"v":0.01},{"ch":"B","seg":2,"a":-20,"v":0},{"ch":"B","seg":2,"a":-10,"v":0.01},{"ch":"B","seg":2,"a":-5,"v":0.01},{"ch":"B","seg":2,"a":0,"v":0},{"ch":"B","seg":2,"a":5,"v":0.01},{"ch":"B","seg":2,"a":10,"v":0},{"ch":"B","seg":2,"a":15,"v":0.01},{"ch":"B","seg":2,"a":20,"v":0.01},{"ch":"B","seg":2,"a":25,"v":0.02},{"ch":"B","seg":2,"a":30,"v":0.01},{"ch":"B","seg":2,"a":34,"v":0.02},{"ch":"B","seg":2,"a":35,"v":0.02},{"ch":"B","seg":2,"a":35.5,"v":0.25},{"ch":"B","seg":2,"a":36.5,"v":0.22},{"ch":"B","seg":2,"a":37.5,"v":0.18},{"ch":"B","seg":2,"a":38.5,"v":0.22},{"ch":"B","seg":2,"a":40,"v":0.25},{"ch":"B","seg":2,"a":41,"v":0.2},{"ch":"B","seg":2,"a":42.5,"v":0.16},{"ch":"B","seg":2,"a":44,"v":0.12},{"ch":"B","seg":2,"a":45.5,"v":0.11},{"ch":"B","seg":2,"a":47,"v":0.14},{"ch":"B","seg":2,"a":48.5,"v":0.11},{"ch":"B","seg":2,"a":49.4,"v":0.2},{"ch":"B","seg":2,"a":50,"v":0.34},{"ch":"B","seg":2,"a":51.5,"v":0.33},{"ch":"B","seg":2,"a":52.5,"v":0.28},{"ch":"B","seg":2,"a":54,"v":0.32},{"ch":"B","seg":2,"a":55,"v":0.28},{"ch":"B","seg":2,"a":56.5,"v":0.22},{"ch":"B","seg":2,"a":58,"v":0.17},{"ch":"B","seg":2,"a":60,"v":0.14},{"ch":"B","seg":2,"a":62,"v":0.12},{"ch":"B","seg":2,"a":64,"v":0.1},{"ch":"B","seg":2,"a":66,"v":0.09},{"ch":"B","seg":2,"a":68,"v":0.08},{"ch":"B","seg":2,"a":70,"v":0.1},{"ch":"B","seg":2,"a":72,"v":0.06},{"ch":"B","seg":2,"a":74,"v":0.04},{"ch":"B","seg":2,"a":76,"v":0.03},{"ch":"B","seg":2,"a":78,"v":0.02},{"ch":"B","seg":2,"a":79.5,"v":0.05},{"ch":"B","seg":2,"a":81,"v":0.09},{"ch":"B","seg":2,"a":83,"v":0.1},{"ch":"B","seg":2,"a":85,"v":0.1},{"ch":"B","seg":2,"a":87,"v":0.08},{"ch":"B","seg":2,"a":89,"v":0.06},{"ch":"B","seg":2,"a":91,"v":0.07},{"ch":"B","seg":2,"a":93,"v":0.05},{"ch":"B","seg":2,"a":95,"v":0.04},{"ch":"B","seg":2,"a":97,"v":0.05},{"ch":"B","seg":2,"a":100,"v":0.03},{"ch":"B","seg":2,"a":104,"v":0.02},{"ch":"B","seg":2,"a":108,"v":0.02},{"ch":"B","seg":2,"a":112,"v":0.02},{"ch":"B","seg":2,"a":116,"v":0.01},{"ch":"B","seg":2,"a":120,"v":0.01},{"ch":"B","seg":2,"a":122,"v":0.03},{"ch":"B","seg":2,"a":124,"v":0.03},{"ch":"B","seg":2,"a":126,"v":0.02},{"ch":"B","seg":2,"a":130,"v":0.01},{"ch":"B","seg":2,"a":135,"v":0.01}
],
"ve":[
{"ch":"A","seg":1,"a":-168,"v":0},{"ch":"A","seg":1,"a":-167,"v":0.01},{"ch":"A","seg":1,"a":-166.4,"v":0.68},{"ch":"A","seg":1,"a":-165.5,"v":0.55},{"ch":"A","seg":1,"a":-164,"v":0.45},{"ch":"A","seg":1,"a":-163,"v":0.43},{"ch":"A","seg":1,"a":-162,"v":0.42},{"ch":"A","seg":1,"a":-161,"v":0.38},{"ch":"A","seg":1,"a":-160,"v":0.3},{"ch":"A","seg":1,"a":-159.4,"v":0.22},{"ch":"A","seg":1,"a":-158.5,"v":0.35},{"ch":"A","seg":1,"a":-157.5,"v":0.65},{"ch":"A","seg":1,"a":-156.8,"v":0.83},{"ch":"A","seg":1,"a":-156,"v":0.75},{"ch":"A","seg":1,"a":-155,"v":0.6},{"ch":"A","seg":1,"a":-154,"v":0.5},{"ch":"A","seg":1,"a":-153,"v":0.42},{"ch":"A","seg":1,"a":-151.5,"v":0.4},{"ch":"A","seg":1,"a":-150,"v":0.38},{"ch":"A","seg":1,"a":-148.5,"v":0.34},{"ch":"A","seg":1,"a":-147,"v":0.3},{"ch":"A","seg":1,"a":-145.5,"v":0.26},{"ch":"A","seg":1,"a":-144,"v":0.22},{"ch":"A","seg":1,"a":-142.5,"v":0.25},{"ch":"A","seg":1,"a":-141.5,"v":0.2},{"ch":"A","seg":1,"a":-140.5,"v":0.12},{"ch":"A","seg":1,"a":-140,"v":0.1},{"ch":"A","seg":1,"a":-139.3,"v":0.2},{"ch":"A","seg":1,"a":-138.8,"v":0.27},{"ch":"A","seg":1,"a":-138,"v":0.2},{"ch":"A","seg":1,"a":-137,"v":0.15},{"ch":"A","seg":1,"a":-135.5,"v":0.12},{"ch":"A","seg":1,"a":-134,"v":0.14},{"ch":"A","seg":1,"a":-132.4,"v":0.15},{"ch":"A","seg":1,"a":-131,"v":0.09},{"ch":"A","seg":1,"a":-130,"v":0.06},{"ch":"A","seg":1,"a":-128,"v":0.03},{"ch":"A","seg":1,"a":-125,"v":0.02},{"ch":"A","seg":1,"a":-120,"v":0.01},{"ch":"A","seg":1,"a":-115,"v":0.01},{"ch":"A","seg":1,"a":-110,"v":0.01},{"ch":"A","seg":1,"a":-105,"v":0.01},
{"ch":"A","seg":2,"a":-16,"v":0},{"ch":"A","seg":2,"a":-13.9,"v":0.02},{"ch":"A","seg":2,"a":-12.5,"v":0.3},{"ch":"A","seg":2,"a":-11.8,"v":0.5},{"ch":"A","seg":2,"a":-11,"v":0.7},{"ch":"A","seg":2,"a":-10,"v":0.77},{"ch":"A","seg":2,"a":-9,"v":0.68},{"ch":"A","seg":2,"a":-8.2,"v":0.6},{"ch":"A","seg":2,"a":-7,"v":0.5},{"ch":"A","seg":2,"a":-6.2,"v":0.45},{"ch":"A","seg":2,"a":-5,"v":0.4},{"ch":"A","seg":2,"a":-3.6,"v":0.35},{"ch":"A","seg":2,"a":-2,"v":0.32},{"ch":"A","seg":2,"a":-1,"v":0.3},{"ch":"A","seg":2,"a":0.5,"v":0.25},{"ch":"A","seg":2,"a":1.5,"v":0.2},{"ch":"A","seg":2,"a":3,"v":0.17},{"ch":"A","seg":2,"a":4.1,"v":0.15},{"ch":"A","seg":2,"a":5.5,"v":0.14},{"ch":"A","seg":2,"a":6.7,"v":0.13},{"ch":"A","seg":2,"a":8,"v":0.12},{"ch":"A","seg":2,"a":9.3,"v":0.15},{"ch":"A","seg":2,"a":10.5,"v":0.14},{"ch":"A","seg":2,"a":11.8,"v":0.12},{"ch":"A","seg":2,"a":13,"v":0.18},{"ch":"A","seg":2,"a":13.9,"v":0.3},{"ch":"A","seg":2,"a":14.6,"v":0.22},{"ch":"A","seg":2,"a":15.2,"v":0.15},{"ch":"A","seg":2,"a":16,"v":0.3},{"ch":"A","seg":2,"a":17,"v":0.8},{"ch":"A","seg":2,"a":18,"v":1.1},{"ch":"A","seg":2,"a":18.8,"v":1.5},{"ch":"A","seg":2,"a":19.6,"v":1.9},{"ch":"A","seg":2,"a":20.3,"v":2.18},{"ch":"A","seg":2,"a":21,"v":2.1},{"ch":"A","seg":2,"a":21.6,"v":1.9},{"ch":"A","seg":2,"a":22.3,"v":1.88},{"ch":"A","seg":2,"a":22.9,"v":1.95},{"ch":"A","seg":2,"a":23.5,"v":1.8},{"ch":"A","seg":2,"a":24.2,"v":1.5},{"ch":"A","seg":2,"a":25,"v":1.35},{"ch":"A","seg":2,"a":26,"v":1.2},{"ch":"A","seg":2,"a":27.3,"v":1.05},{"ch":"A","seg":2,"a":28.5,"v":1.05},{"ch":"A","seg":2,"a":29.9,"v":1.03},{"ch":"A","seg":2,"a":30.6,"v":1.08},{"ch":"A","seg":2,"a":31.2,"v":1.1},{"ch":"A","seg":2,"a":31.8,"v":0.95},{"ch":"A","seg":2,"a":32.4,"v":0.75},{"ch":"A","seg":2,"a":33.2,"v":0.95},{"ch":"A","seg":2,"a":34.2,"v":1.15},{"ch":"A","seg":2,"a":35.2,"v":1.05},{"ch":"A","seg":2,"a":36.3,"v":0.9},{"ch":"A","seg":2,"a":37.2,"v":0.8},{"ch":"A","seg":2,"a":38.1,"v":0.7},{"ch":"A","seg":2,"a":39.2,"v":0.6},{"ch":"A","seg":2,"a":40.2,"v":0.5},{"ch":"A","seg":2,"a":41.2,"v":0.62},{"ch":"A","seg":2,"a":42,"v":0.72},{"ch":"A","seg":2,"a":42.8,"v":0.68},{"ch":"A","seg":2,"a":43.5,"v":0.65},{"ch":"A","seg":2,"a":44.4,"v":0.75},{"ch":"A","seg":2,"a":45.3,"v":0.82},{"ch":"A","seg":2,"a":46.2,"v":0.72},{"ch":"A","seg":2,"a":47.1,"v":0.6},{"ch":"A","seg":2,"a":48,"v":0.58},{"ch":"A","seg":2,"a":48.7,"v":0.55},{"ch":"A","seg":2,"a":49.6,"v":0.45},{"ch":"A","seg":2,"a":50.5,"v":0.4},{"ch":"A","seg":2,"a":51.4,"v":0.4},{"ch":"A","seg":2,"a":52.3,"v":0.38},{"ch":"A","seg":2,"a":53.3,"v":0.33},{"ch":"A","seg":2,"a":54.3,"v":0.3},{"ch":"A","seg":2,"a":55.5,"v":0.26},{"ch":"A","seg":2,"a":56.9,"v":0.22},{"ch":"A","seg":2,"a":58.2,"v":0.18},{"ch":"A","seg":2,"a":59.5,"v":0.15},{"ch":"A","seg":2,"a":61.5,"v":0.12},{"ch":"A","seg":2,"a":63.4,"v":0.1},{"ch":"A","seg":2,"a":65.5,"v":0.08},{"ch":"A","seg":2,"a":67.2,"v":0.09},{"ch":"A","seg":2,"a":69,"v":0.07},{"ch":"A","seg":2,"a":71.1,"v":0.05},{"ch":"A","seg":2,"a":73.5,"v":0.03},{"ch":"A","seg":2,"a":76.2,"v":0.02},{"ch":"A","seg":2,"a":80,"v":0.01},{"ch":"A","seg":2,"a":90,"v":0.01},{"ch":"A","seg":2,"a":100,"v":0.01},{"ch":"A","seg":2,"a":105,"v":0.01},
{"ch":"A","seg":3,"a":118,"v":0.01},{"ch":"A","seg":3,"a":120,"v":0.02},{"ch":"A","seg":3,"a":122,"v":0.03},{"ch":"A","seg":3,"a":124,"v":0.02},{"ch":"A","seg":3,"a":126,"v":0.01},
{"ch":"B","seg":1,"a":-180,"v":0.04},{"ch":"B","seg":1,"a":-177,"v":0.03},{"ch":"B","seg":1,"a":-174,"v":0.04},{"ch":"B","seg":1,"a":-171,"v":0.05},{"ch":"B","seg":1,"a":-168,"v":0.05},{"ch":"B","seg":1,"a":-166,"v":0.07},{"ch":"B","seg":1,"a":-163,"v":0.05},{"ch":"B","seg":1,"a":-160,"v":0.04},{"ch":"B","seg":1,"a":-157,"v":0.05},{"ch":"B","seg":1,"a":-154,"v":0.03},{"ch":"B","seg":1,"a":-150,"v":0.02},{"ch":"B","seg":1,"a":-146,"v":0.02},{"ch":"B","seg":1,"a":-142,"v":0.01},{"ch":"B","seg":1,"a":-138,"v":0.02},{"ch":"B","seg":1,"a":-134,"v":0.01},{"ch":"B","seg":1,"a":-130,"v":0.01},
{"ch":"B","seg":2,"a":-92,"v":0},{"ch":"B","seg":2,"a":-88,"v":0.02},{"ch":"B","seg":2,"a":-85,"v":0.03},{"ch":"B","seg":2,"a":-82,"v":0.02},{"ch":"B","seg":2,"a":-79,"v":0},
{"ch":"B","seg":3,"a":-50,"v":0},{"ch":"B","seg":3,"a":-47,"v":0.02},{"ch":"B","seg":3,"a":-44,"v":0.04},{"ch":"B","seg":3,"a":-42,"v":0.07},{"ch":"B","seg":3,"a":-40,"v":0.1},{"ch":"B","seg":3,"a":-38,"v":0.07},{"ch":"B","seg":3,"a":-36,"v":0.04},{"ch":"B","seg":3,"a":-33,"v":0.03},{"ch":"B","seg":3,"a":-30,"v":0.03},{"ch":"B","seg":3,"a":-25,"v":0.02},{"ch":"B","seg":3,"a":-20,"v":0.01},{"ch":"B","seg":3,"a":-15,"v":0.01},{"ch":"B","seg":3,"a":-10,"v":0.01},{"ch":"B","seg":3,"a":-5,"v":0.01},
{"ch":"B","seg":4,"a":35,"v":0},{"ch":"B","seg":4,"a":37,"v":0.02},{"ch":"B","seg":4,"a":39,"v":0.04},{"ch":"B","seg":4,"a":41.5,"v":0.1},{"ch":"B","seg":4,"a":42.5,"v":0.2},{"ch":"B","seg":4,"a":43.3,"v":0.3},{"ch":"B","seg":4,"a":44,"v":0.45},{"ch":"B","seg":4,"a":44.8,"v":0.56},{"ch":"B","seg":4,"a":45.7,"v":0.48},{"ch":"B","seg":4,"a":46.6,"v":0.4},{"ch":"B","seg":4,"a":48,"v":0.34},{"ch":"B","seg":4,"a":49.2,"v":0.3},{"ch":"B","seg":4,"a":50.5,"v":0.27},{"ch":"B","seg":4,"a":51.8,"v":0.25},{"ch":"B","seg":4,"a":53,"v":0.22},{"ch":"B","seg":4,"a":54.3,"v":0.2},{"ch":"B","seg":4,"a":56,"v":0.17},{"ch":"B","seg":4,"a":58.2,"v":0.14},{"ch":"B","seg":4,"a":60.5,"v":0.11},{"ch":"B","seg":4,"a":63.4,"v":0.08},{"ch":"B","seg":4,"a":66,"v":0.06},{"ch":"B","seg":4,"a":68.5,"v":0.05},{"ch":"B","seg":4,"a":71,"v":0.06},{"ch":"B","seg":4,"a":73.6,"v":0.07},{"ch":"B","seg":4,"a":75.5,"v":0.05},{"ch":"B","seg":4,"a":77.5,"v":0.04},{"ch":"B","seg":4,"a":80,"v":0.03},{"ch":"B","seg":4,"a":81.4,"v":0.02},{"ch":"B","seg":4,"a":85,"v":0.01}
]
},
"vconcat":[
{
"width":1180,"height":318,
"layer":[
{"layer":[
{"layer":[
{"data":{"name":"p1"},"transform":[{"filter":"datum.ch==='M'"}],"mark":{"type":"line","color":"#c6c6c6","strokeWidth":1.2,"interpolate":"monotone"},
"encoding":{"x":{"field":"a","type":"quantitative","scale":{"domain":[-180,180],"range":[0,504],"nice":false,"zero":false},"axis":{"orient":"bottom","values":[-180,-150,-120,-90,-60,-30,0,30,60,90,120,150,180],"labelExpr":"'' + abs(datum.value)","title":"Crank angle [°]","labelFontSize":7,"titleFontSize":7,"tickSize":3,"labelPadding":2,"titlePadding":4,"grid":true,"gridColor":"#dedede","domainColor":"#9a9a9a","tickColor":"#888","labelColor":"#444","titleColor":"#444"}},
"y":{"field":"v","type":"quantitative","scale":{"domain":[0,10],"nice":false,"zero":false},"axis":{"orient":"left","values":[0,1,2,3,4,5,6,7,8,9,10],"tickCount":11,"labelExpr":"replace(format(datum.value,'.1f'),'.',',')","title":"Pressure in cylinder, MPa","labelFontSize":7,"titleFontSize":7.5,"tickSize":3,"labelPadding":1,"minExtent":20,"maxExtent":20,"titlePadding":3,"grid":true,"gridColor":"#dedede","domainColor":"#333","tickColor":"#666","labelColor":"#444","titleColor":"#444"}}}},
{"data":{"name":"p1"},"transform":[{"filter":"datum.ch==='F'"}],"mark":{"type":"line","color":"#2f2f2f","strokeWidth":1.4,"interpolate":"monotone"},"encoding":{"x":{"field":"a","type":"quantitative"},"y":{"field":"v","type":"quantitative"}}},
{"data":{"name":"one"},"mark":{"type":"rule","color":"#333","strokeWidth":1.5},"encoding":{"x":{"datum":180}}},
{"data":{"name":"one"},"mark":{"type":"text","text":"K6S310DR (ЧМЭ3 7037 /#21/)","align":"center","baseline":"middle","fontSize":8,"color":"#333"},"encoding":{"x":{"datum":-8.6},"y":{"datum":10.69}}},
{"data":{"name":"one"},"mark":{"type":"text","text":"CYLINDER # 2","align":"center","baseline":"middle","fontSize":8,"color":"#333"},"encoding":{"x":{"datum":-8.6},"y":{"datum":10.31}}},
{"data":{"name":"one"},"mark":{"type":"text","text":"DEPAS D4.0H","align":"left","baseline":"middle","fontSize":12,"fontStyle":"italic","color":"#34548f"},"encoding":{"x":{"datum":-200},"y":{"datum":11.29}}},
{"data":{"name":"one"},"mark":{"type":"text","text":"DEPAS Laboratory","align":"right","baseline":"middle","fontSize":5.5,"color":"#555"},"encoding":{"x":{"datum":182},"y":{"datum":11.64}}},
{"data":{"name":"one"},"mark":{"type":"text","text":"DIAG NOTES","align":"right","baseline":"middle","fontSize":6,"fontWeight":"bold","color":"#555"},"encoding":{"x":{"datum":175.7},"y":{"datum":9.84}}},
{"data":{"name":"one"},"mark":{"type":"point","shape":"M -1 -0.394 L 0.52 -0.394 L 0.52 -0.775 L 1 0 L 0.52 0.775 L 0.52 0.394 L -1 0.394 Z","size":20164,"filled":true,"fill":"white","stroke":"#1fa855","strokeWidth":2,"opacity":1},"encoding":{"x":{"datum":215.7},"y":{"datum":2.42}}},
{"data":{"name":"one"},"mark":{"type":"text","text":"ремонт","align":"center","baseline":"middle","fontSize":20,"color":"#1fa855"},"encoding":{"x":{"datum":207.9},"y":{"datum":2.7}}}
]},
{"layer":[
{"data":{"name":"one"},"mark":{"type":"rect","fill":"white","stroke":"#e2e2e2","strokeWidth":1},"encoding":{"x":{"datum":-176.4},"x2":{"datum":-130.7},"y":{"datum":0.333,"scale":{"domain":[-1.733,19.467],"reverse":true,"nice":false,"zero":false},"axis":null},"y2":{"datum":17.27}}},
{"data":{"name":"one"},"mark":{"type":"rect","fill":"white","stroke":"#e2e2e2","strokeWidth":1},"encoding":{"x":{"datum":-129.3},"x2":{"datum":-88.6},"y":{"datum":0.333,"axis":null},"y2":{"datum":7.33}}},
{"data":{"name":"one"},"mark":{"type":"rect","fill":"white","stroke":"#e2e2e2","strokeWidth":1},"encoding":{"x":{"datum":130.7},"x2":{"datum":174.3},"y":{"datum":0.27,"axis":null},"y2":{"datum":12.0}}},
{"data":{"name":"i1"},"transform":[{"filter":"datum.box==='L'"}],"mark":{"type":"text","align":"left","baseline":"middle","fontSize":6.5,"color":"#9a9a9a"},"encoding":{"x":{"datum":-172.9},"y":{"field":"row","type":"quantitative","axis":null},"text":{"field":"label"}}},
{"data":{"name":"i1"},"transform":[{"filter":"datum.box==='L'"}],"mark":{"type":"text","align":"right","baseline":"middle","fontSize":6.5,"fontWeight":"bold","color":"#444"},"encoding":{"x":{"datum":-132.5},"y":{"field":"row","type":"quantitative","axis":null},"text":{"field":"value"}}},
{"data":{"name":"i1"},"transform":[{"filter":"datum.box==='M'"}],"mark":{"type":"text","align":"left","baseline":"middle","fontSize":6.5},"encoding":{"x":{"datum":-124.3},"y":{"field":"row","type":"quantitative","axis":null},"text":{"field":"label"},"color":{"condition":[{"test":"datum.row===1","value":"#444"},{"test":"datum.row===2","value":"#c4c4c4"}],"value":"#aaaaaa"}}},
{"data":{"name":"i1"},"transform":[{"filter":"datum.box==='M'"}],"mark":{"type":"text","align":"right","baseline":"middle","fontSize":6.5,"color":"#999"},"encoding":{"x":{"datum":-92.1},"y":{"field":"row","type":"quantitative","axis":null},"text":{"field":"value"}}},
{"data":{"name":"i1"},"transform":[{"filter":"datum.box==='R'"}],"mark":{"type":"text","align":"left","baseline":"middle","fontSize":6.5},"encoding":{"x":{"datum":133.6},"y":{"field":"row","type":"quantitative","axis":null},"text":{"field":"label"},"color":{"condition":{"test":"datum.row > 8.5","value":"#555"},"value":"#9a9a9a"}}},
{"data":{"name":"i1"},"transform":[{"filter":"datum.box==='R'"}],"mark":{"type":"text","align":"right","baseline":"middle","fontSize":6.5,"fontWeight":"bold","color":"#444"},"encoding":{"x":{"datum":170.7},"y":{"field":"row","type":"quantitative","axis":null},"text":{"field":"value"}}}
]}
],
"resolve":{"scale":{"y":"independent"}}},
{"layer":[
{"layer":[
{"data":{"name":"p2"},"transform":[{"filter":"datum.ch==='M'"}],"mark":{"type":"line","color":"#c6c6c6","strokeWidth":1.2,"interpolate":"monotone"},
"encoding":{"x":{"field":"a","type":"quantitative","scale":{"domain":[-180,180],"range":[644,1180],"nice":false,"zero":false},"axis":{"orient":"bottom","values":[-180,-150,-120,-90,-60,-30,0,30,60,90,120,150,180],"labelExpr":"'' + abs(datum.value)","title":"Crank angle [°]","labelFontSize":7,"titleFontSize":7,"tickSize":3,"labelPadding":2,"titlePadding":4,"grid":true,"gridColor":"#dedede","domainColor":"#9a9a9a","tickColor":"#888","labelColor":"#444","titleColor":"#444"}},
"y":{"field":"v","type":"quantitative","scale":{"domain":[0,10],"nice":false,"zero":false},"axis":{"orient":"left","offset":-644,"values":[0,1,2,3,4,5,6,7,8,9,10],"tickCount":11,"labelExpr":"replace(format(datum.value,'.1f'),'.',',')","title":"Pressure in cylinder, MPa","labelFontSize":7,"titleFontSize":7.5,"tickSize":3,"labelPadding":1,"minExtent":20,"maxExtent":20,"titlePadding":3,"grid":true,"gridColor":"#dedede","domainColor":"#333","tickColor":"#666","labelColor":"#444","titleColor":"#444"}}}},
{"data":{"name":"p2"},"transform":[{"filter":"datum.ch==='F'"}],"mark":{"type":"line","color":"#2f2f2f","strokeWidth":1.4,"interpolate":"monotone"},"encoding":{"x":{"field":"a","type":"quantitative"},"y":{"field":"v","type":"quantitative"}}},
{"data":{"name":"one"},"mark":{"type":"rule","color":"#333","strokeWidth":1.5},"encoding":{"x":{"datum":180}}},
{"data":{"name":"one"},"mark":{"type":"text","text":"K6S310DR (ЧМЭ3 7037 /#21/)","align":"center","baseline":"middle","fontSize":8,"color":"#333"},"encoding":{"x":{"datum":-7.4},"y":{"datum":10.69}}},
{"data":{"name":"one"},"mark":{"type":"text","text":"CYLINDER # 2","align":"center","baseline":"middle","fontSize":8,"color":"#333"},"encoding":{"x":{"datum":-7.4},"y":{"datum":10.31}}},
{"data":{"name":"one"},"mark":{"type":"text","text":"DEPAS D4.0H","align":"left","baseline":"middle","fontSize":12,"fontStyle":"italic","color":"#34548f"},"encoding":{"x":{"datum":-204.2},"y":{"datum":11.26}}},
{"data":{"name":"one"},"mark":{"type":"text","text":"DEPAS Laboratory","align":"right","baseline":"middle","fontSize":5.5,"color":"#555"},"encoding":{"x":{"datum":194},"y":{"datum":11.6}}},
{"data":{"name":"one"},"mark":{"type":"text","text":"DIAG NOTES","align":"right","baseline":"middle","fontSize":6,"fontWeight":"bold","color":"#555"},"encoding":{"x":{"datum":175.3},"y":{"datum":9.84}}}
]},
{"layer":[
{"data":{"name":"one"},"mark":{"type":"rect","fill":"white","stroke":"#e2e2e2","strokeWidth":1},"encoding":{"x":{"datum":-176.6},"x2":{"datum":-129.6},"y":{"datum":0.27,"scale":{"domain":[-1.8,19.4],"reverse":true,"nice":false,"zero":false},"axis":null},"y2":{"datum":17.27}}},
{"data":{"name":"one"},"mark":{"type":"rect","fill":"white","stroke":"#e2e2e2","strokeWidth":1},"encoding":{"x":{"datum":-127},"x2":{"datum":-87.3},"y":{"datum":0.27,"axis":null},"y2":{"datum":7.4}}},
{"data":{"name":"one"},"mark":{"type":"rect","fill":"white","stroke":"#e2e2e2","strokeWidth":1},"encoding":{"x":{"datum":130.3},"x2":{"datum":174.6},"y":{"datum":0.27,"axis":null},"y2":{"datum":12.0}}},
{"data":{"name":"i2"},"transform":[{"filter":"datum.box==='L'"}],"mark":{"type":"text","align":"left","baseline":"middle","fontSize":6.5,"color":"#9a9a9a"},"encoding":{"x":{"datum":-172.6},"y":{"field":"row","type":"quantitative","axis":null},"text":{"field":"label"}}},
{"data":{"name":"i2"},"transform":[{"filter":"datum.box==='L'"}],"mark":{"type":"text","align":"right","baseline":"middle","fontSize":6.5,"fontWeight":"bold","color":"#444"},"encoding":{"x":{"datum":-134.5},"y":{"field":"row","type":"quantitative","axis":null},"text":{"field":"value"}}},
{"data":{"name":"i2"},"transform":[{"filter":"datum.box==='M'"}],"mark":{"type":"text","align":"left","baseline":"middle","fontSize":6.5},"encoding":{"x":{"datum":-122.9},"y":{"field":"row","type":"quantitative","axis":null},"text":{"field":"label"},"color":{"condition":[{"test":"datum.row===1","value":"#444"},{"test":"datum.row===2","value":"#c4c4c4"}],"value":"#aaaaaa"}}},
{"data":{"name":"i2"},"transform":[{"filter":"datum.box==='M'"}],"mark":{"type":"text","align":"right","baseline":"middle","fontSize":6.5,"color":"#999"},"encoding":{"x":{"datum":-91.3},"y":{"field":"row","type":"quantitative","axis":null},"text":{"field":"value"}}},
{"data":{"name":"i2"},"transform":[{"filter":"datum.box==='R'"}],"mark":{"type":"text","align":"left","baseline":"middle","fontSize":6.5},"encoding":{"x":{"datum":133.6},"y":{"field":"row","type":"quantitative","axis":null},"text":{"field":"label"},"color":{"condition":{"test":"datum.row > 8.5","value":"#555"},"value":"#9a9a9a"}}},
{"data":{"name":"i2"},"transform":[{"filter":"datum.box==='R'"}],"mark":{"type":"text","align":"right","baseline":"middle","fontSize":6.5,"fontWeight":"bold","color":"#444"},"encoding":{"x":{"datum":171.9},"y":{"field":"row","type":"quantitative","axis":null},"text":{"field":"value"}}}
]}
],
"resolve":{"scale":{"y":"independent"}}}
],
"resolve":{"scale":{"x":"independent","y":"independent"}}
},
{
"width":1180,"height":126,
"layer":[
{"layer":[
{"data":{"name":"v1"},"transform":[{"filter":"datum.ch==='A'"}],"mark":{"type":"line","color":"#2b2b2b","strokeWidth":1.1},
"encoding":{"x":{"field":"a","type":"quantitative","scale":{"domain":[-180,180],"range":[0,504],"nice":false,"zero":false},"axis":{"orient":"bottom","values":[-180,-150,-120,-90,-60,-30,0,30,60,90,120,150,180],"labelExpr":"datum.value >= 150 ? '' : '' + datum.value","title":"Crank angle [°]","labelFontSize":7,"titleFontSize":7,"tickSize":3,"labelPadding":2,"titlePadding":4,"grid":true,"gridColor":"#dedede","domainColor":"#9a9a9a","tickColor":"#888","labelColor":"#444","titleColor":"#444"}},
"y":{"field":"v","type":"quantitative","scale":{"domain":[0,2.5],"nice":false,"zero":false},"axis":{"orient":"left","values":[0,0.5,1,1.5,2,2.5],"tickCount":6,"labelExpr":"replace(format(datum.value,'.1f'),'.',',')","title":"Vibro, volt","labelFontSize":7,"titleFontSize":7,"tickSize":3,"labelPadding":1,"minExtent":20,"maxExtent":20,"titlePadding":3.5,"grid":true,"gridColor":"#dedede","domainColor":"#333","tickColor":"#666","labelColor":"#444","titleColor":"#444"}},
"detail":{"field":"seg","type":"nominal"}}},
{"data":{"name":"v1"},"transform":[{"filter":"datum.ch==='B'"}],"mark":{"type":"line","color":"#9090f0","strokeWidth":1},"encoding":{"x":{"field":"a","type":"quantitative"},"y":{"field":"v","type":"quantitative"},"detail":{"field":"seg","type":"nominal"}}},
{"data":{"name":"one"},"mark":{"type":"rule","color":"#333","strokeWidth":1.5},"encoding":{"x":{"datum":180}}},
{"data":{"name":"one"},"mark":{"type":"text","text":"VS-20 Diagram","align":"center","baseline":"middle","fontSize":7,"color":"#5656b4"},"encoding":{"x":{"datum":-9.3},"y":{"datum":2.68}}},
{"data":{"name":"one"},"mark":{"type":"point","shape":"M 1 0 C 1 0.552 0.552 1 0 1 C -0.552 1 -1 0.552 -1 0 C -1 -0.552 -0.552 -1 0 -1 C 0.552 -1 1 -0.552 1 0 Z","size":3136,"filled":false,"stroke":"#e53030","strokeWidth":1.3,"opacity":1},"encoding":{"x":{"datum":-145.4},"y":{"datum":0.595}}},
{"data":{"name":"one"},"mark":{"type":"point","shape":"M 0.866 0 C 0.866 0.552 0.478 1 0 1 C -0.478 1 -0.866 0.552 -0.866 0 C -0.866 -0.552 -0.478 -1 0 -1 C 0.478 -1 0.866 -0.552 0.866 0 Z","size":4096,"filled":false,"stroke":"#e53030","strokeWidth":1.3,"opacity":1},"encoding":{"x":{"datum":-8.9},"y":{"datum":0.952}}},
{"data":{"name":"one"},"mark":{"type":"rect","color":"white"},"encoding":{"x":{"datum":-171.4},"x2":{"datum":-67.9},"y":{"datum":1.746},"y2":{"datum":1.349}}},
{"data":{"name":"one"},"mark":{"type":"text","text":"Впускные клапана","align":"center","baseline":"middle","fontSize":13.5,"fontStyle":"italic","color":"#e53030"},"encoding":{"x":{"datum":-120},"y":{"datum":1.548}}},
{"data":{"name":"one"},"mark":{"type":"rect","color":"white"},"encoding":{"x":{"datum":-38.6},"x2":{"datum":35},"y":{"datum":2.282},"y2":{"datum":1.627}}},
{"data":{"name":"one"},"mark":{"type":"text","text":"форсунка","align":"center","baseline":"middle","fontSize":13.5,"fontStyle":"italic","color":"#e53030"},"encoding":{"x":{"datum":-5.7},"y":{"datum":1.925}}},
{"data":{"name":"one"},"mark":{"type":"rect","fill":"white","stroke":"black","strokeWidth":1.5},"encoding":{"x":{"datum":134.3},"x2":{"datum":189.3},"y":{"datum":0.496},"y2":{"datum":-0.397}}},
{"data":{"name":"one"},"mark":{"type":"text","text":"b1","align":"center","baseline":"middle","fontSize":24,"font":"Liberation Serif","fontWeight":"bold","fontStyle":"italic","color":"black"},"encoding":{"x":{"datum":162.1},"y":{"datum":0.06}}}
]},
{"layer":[
{"data":{"name":"v2"},"transform":[{"filter":"datum.ch==='A'"}],"mark":{"type":"line","color":"#2b2b2b","strokeWidth":1.1},
"encoding":{"x":{"field":"a","type":"quantitative","scale":{"domain":[-180,180],"range":[644,1180],"nice":false,"zero":false},"axis":{"orient":"bottom","values":[-180,-150,-120,-90,-60,-30,0,30,60,90,120,150,180],"labelExpr":"datum.value == 150 ? '' : '' + datum.value","title":"Crank angle [°]","labelFontSize":7,"titleFontSize":7,"tickSize":3,"labelPadding":2,"titlePadding":4,"grid":true,"gridColor":"#dedede","domainColor":"#9a9a9a","tickColor":"#888","labelColor":"#444","titleColor":"#444"}},
"y":{"field":"v","type":"quantitative","scale":{"domain":[0,2.5],"nice":false,"zero":false},"axis":{"orient":"left","offset":-644,"values":[0,0.5,1,1.5,2,2.5],"tickCount":6,"labelExpr":"replace(format(datum.value,'.1f'),'.',',')","title":"Vibro, volt","labelFontSize":7,"titleFontSize":7,"tickSize":3,"labelPadding":1,"minExtent":20,"maxExtent":20,"titlePadding":3.5,"grid":true,"gridColor":"#dedede","domainColor":"#333","tickColor":"#666","labelColor":"#444","titleColor":"#444"}},
"detail":{"field":"seg","type":"nominal"}}},
{"data":{"name":"v2"},"transform":[{"filter":"datum.ch==='B'"}],"mark":{"type":"line","color":"#9090f0","strokeWidth":1},"encoding":{"x":{"field":"a","type":"quantitative"},"y":{"field":"v","type":"quantitative"},"detail":{"field":"seg","type":"nominal"}}},
{"data":{"name":"one"},"mark":{"type":"rule","color":"#333","strokeWidth":1.5},"encoding":{"x":{"datum":180}}},
{"data":{"name":"one"},"mark":{"type":"text","text":"VS-20 Diagram","align":"center","baseline":"middle","fontSize":7,"color":"#5656b4"},"encoding":{"x":{"datum":-1.7},"y":{"datum":2.68}}},
{"data":{"name":"one"},"mark":{"type":"rect","color":"white"},"encoding":{"x":{"datum":-151.1},"x2":{"datum":-110.8},"y":{"datum":1.548},"y2":{"datum":1.071}}},
{"data":{"name":"one"},"mark":{"type":"text","text":"OK","align":"center","baseline":"middle","fontSize":16,"fontWeight":"bold","fontStyle":"italic","color":"#22a84a"},"encoding":{"x":{"datum":-131.6},"y":{"datum":1.31}}},
{"data":{"name":"one"},"mark":{"type":"rect","color":"white"},"encoding":{"x":{"datum":-43.7},"x2":{"datum":-3.4},"y":{"datum":2.262},"y2":{"datum":1.786}}},
{"data":{"name":"one"},"mark":{"type":"text","text":"OK","align":"center","baseline":"middle","fontSize":16,"fontWeight":"bold","fontStyle":"italic","color":"#22a84a"},"encoding":{"x":{"datum":-23.5},"y":{"datum":2.024}}},
{"data":{"name":"one"},"mark":{"type":"rect","color":"white"},"encoding":{"x":{"datum":63.8},"x2":{"datum":90.7},"y":{"datum":0.893},"y2":{"datum":0.496}}},
{"data":{"name":"one"},"mark":{"type":"text","text":"OK","align":"center","baseline":"middle","fontSize":16,"fontWeight":"bold","fontStyle":"italic","color":"#22a84a"},"encoding":{"x":{"datum":76.5},"y":{"datum":0.694}}},
{"data":{"name":"one"},"mark":{"type":"rect","fill":"white","stroke":"black","strokeWidth":1.5},"encoding":{"x":{"datum":124.9},"x2":{"datum":178.6},"y":{"datum":0.476},"y2":{"datum":-0.397}}},
{"data":{"name":"one"},"mark":{"type":"text","text":"b2","align":"center","baseline":"middle","fontSize":24,"font":"Liberation Serif","fontWeight":"bold","fontStyle":"italic","color":"black"},"encoding":{"x":{"datum":151.8},"y":{"datum":0.04}}}
]}
],
"resolve":{"scale":{"x":"independent","y":"independent"}}
},
{"width":1,"height":4,"mark":{"type":"text","text":""}},
{
"width":1016,"height":208,
"title":{"text":"VS-20 Diagram","fontSize":13,"font":"Liberation Sans","color":"#34349a","offset":-21,"dx":60},
"layer":[
{"data":{"name":"vc"},"transform":[{"filter":"datum.ch==='A'"}],"mark":{"type":"line","color":"#2b2b2b","strokeWidth":1.5},
"encoding":{"x":{"field":"a","type":"quantitative","scale":{"domain":[-180,180],"range":[156,1016],"nice":false,"zero":false},"axis":{"values":[-180,-150,-120,-90,-60,-30,0,30,60,90,120,150,180],"labelExpr":"datum.value >= 150 ? '' : '' + datum.value","title":"Crank angle [°]","labelFont":"Liberation Sans","titleFont":"Liberation Sans","labelFontSize":12,"titleFontSize":13,"tickSize":4,"labelPadding":3,"titlePadding":4,"grid":true,"gridColor":"#cccccc","gridWidth":1.5,"domainColor":"#999","tickColor":"#777","labelColor":"#333","titleColor":"#333"}},
"y":{"field":"v","type":"quantitative","scale":{"domain":[0,2.5],"nice":false,"zero":false},"axis":{"offset":-156,"values":[0,0.5,1,1.5,2,2.5],"labelExpr":"replace(format(datum.value,'.1f'),'.',',')","title":"Vibro, volt","labelFont":"Liberation Sans","titleFont":"Liberation Sans","labelFontSize":12,"titleFontSize":12,"tickSize":4,"labelPadding":3,"minExtent":28,"maxExtent":28,"titlePadding":12,"grid":true,"gridColor":"#cccccc","gridWidth":1.5,"domainColor":"#333","domainWidth":1.5,"tickColor":"#555","labelColor":"#333","titleColor":"#444"}},
"detail":{"field":"seg","type":"nominal"}}},
{"data":{"name":"vc"},"transform":[{"filter":"datum.ch==='B'"}],"mark":{"type":"line","color":"#9090f0","strokeWidth":1.2},"encoding":{"x":{"field":"a","type":"quantitative"},"y":{"field":"v","type":"quantitative"},"detail":{"field":"seg","type":"nominal"}}},
{"data":{"name":"one"},"mark":{"type":"rule","color":"#333","strokeWidth":1.5},"encoding":{"x":{"datum":180}}},
{"data":{"name":"one"},"mark":{"type":"point","shape":"M 0.83 0 C 0.83 0.552 0.458 1 0 1 C -0.458 1 -0.83 0.552 -0.83 0 C -0.83 -0.552 -0.458 -1 0 -1 C 0.458 -1 0.83 -0.552 0.83 0 Z","size":52900,"filled":false,"stroke":"#e82020","strokeWidth":2.2,"opacity":1},"encoding":{"x":{"datum":-5.9},"y":{"datum":1.418}}},
{"data":{"name":"one"},"mark":{"type":"rect","color":"white"},"encoding":{"x":{"datum":20.1},"x2":{"datum":123.1},"y":{"datum":2.368},"y2":{"datum":1.659}}},
{"data":{"name":"one"},"mark":{"type":"text","text":"форсунка-ТНВД","align":"center","baseline":"middle","fontSize":21,"fontStyle":"italic","color":"#e82020"},"encoding":{"x":{"datum":71.2},"y":{"datum":1.959}}},
{"data":{"name":"one"},"mark":{"type":"rect","fill":"white","stroke":"black","strokeWidth":1.5},"encoding":{"x":{"datum":144.8},"x2":{"datum":187.5},"y":{"datum":0.505},"y2":{"datum":-0.385}}},
{"data":{"name":"one"},"mark":{"type":"text","text":"c","align":"center","baseline":"middle","fontSize":32,"font":"Liberation Serif","fontWeight":"bold","color":"black"},"encoding":{"x":{"datum":165.8},"y":{"datum":0.084}}}
]
},
{"width":1,"height":23,"mark":{"type":"text","text":""}},
{
"width":1024,"height":264,
"title":{"text":"VS-20 Diagram","fontSize":13,"font":"Liberation Sans","color":"#34349a","offset":1,"dx":59},
"layer":[
{"data":{"name":"vd"},"transform":[{"filter":"datum.ch==='A'"}],"mark":{"type":"line","color":"#2b2b2b","strokeWidth":1.5},
"encoding":{"x":{"field":"a","type":"quantitative","scale":{"domain":[-180,180],"range":[158,1024],"nice":false,"zero":false},"axis":{"values":[-180,-150,-120,-90,-60,-30,0,30,60,90,120,150,180],"labelExpr":"datum.value >= 150 ? '' : '' + datum.value","title":"Crank angle [°]","labelFont":"Liberation Sans","titleFont":"Liberation Sans","labelFontSize":13,"titleFontSize":14,"tickSize":4,"labelPadding":5,"titlePadding":8,"grid":true,"gridColor":"#cccccc","gridWidth":2,"domainColor":"#999","tickColor":"#777","labelColor":"#333","titleColor":"#333"}},
"y":{"field":"v","type":"quantitative","scale":{"domain":[0,2.5],"nice":false,"zero":false},"axis":{"offset":-158,"values":[0,0.5,1,1.5,2,2.5],"labelExpr":"replace(format(datum.value,'.1f'),'.',',')","title":"Vibro, volt","labelFont":"Liberation Sans","titleFont":"Liberation Sans","labelFontSize":13,"titleFontSize":13,"tickSize":4,"labelPadding":3,"minExtent":28,"maxExtent":28,"titlePadding":8,"grid":true,"gridColor":"#cccccc","gridWidth":2,"domainColor":"#333","domainWidth":1.5,"tickColor":"#555","labelColor":"#333","titleColor":"#444"}},
"detail":{"field":"seg","type":"nominal"}}},
{"data":{"name":"vd"},"transform":[{"filter":"datum.ch==='B'"}],"mark":{"type":"line","color":"#9090f0","strokeWidth":1.2},"encoding":{"x":{"field":"a","type":"quantitative"},"y":{"field":"v","type":"quantitative"},"detail":{"field":"seg","type":"nominal"}}},
{"data":{"name":"one"},"mark":{"type":"rule","color":"#333","strokeWidth":1.5},"encoding":{"x":{"datum":180}}},
{"data":{"name":"one"},"mark":{"type":"point","shape":"M 1 0 C 1 0.458 0.552 0.829 0 0.829 C -0.552 0.829 -1 0.458 -1 0 C -1 -0.458 -0.552 -0.829 0 -0.829 C 0.552 -0.829 1 -0.458 1 0 Z","size":19600,"filled":false,"stroke":"#e82020","strokeWidth":2.2,"opacity":1},"encoding":{"x":{"datum":49.4},"y":{"datum":0.189}}},
{"data":{"name":"one"},"mark":{"type":"rect","color":"white"},"encoding":{"x":{"datum":38.2},"x2":{"datum":175.4},"y":{"datum":1.307},"y2":{"datum":0.739}}},
{"data":{"name":"one"},"mark":{"type":"text","text":"Выпускные клапана","align":"center","baseline":"middle","fontSize":22,"fontStyle":"italic","color":"#e82020"},"encoding":{"x":{"datum":98.5},"y":{"datum":0.994}}},
{"data":{"name":"one"},"mark":{"type":"rect","fill":"white","stroke":"black","strokeWidth":1.5},"encoding":{"x":{"datum":138.8},"x2":{"datum":184.1},"y":{"datum":0.3125},"y2":{"datum":-0.36}}},
{"data":{"name":"one"},"mark":{"type":"text","text":"d","align":"center","baseline":"middle","fontSize":32,"font":"Liberation Serif","fontWeight":"bold","fontStyle":"italic","color":"black"},"encoding":{"x":{"datum":161.2},"y":{"datum":-0.019}}}
]
},
{"width":1,"height":28,"mark":{"type":"text","text":""}},
{
"width":1008,"height":256,
"title":{"text":"VS-20 Diagram","fontSize":13,"font":"Liberation Sans","color":"#34349a","offset":4,"dx":62},
"layer":[
{"data":{"name":"ve"},"transform":[{"filter":"datum.ch==='A'"}],"mark":{"type":"line","color":"#2b2b2b","strokeWidth":1.5},
"encoding":{"x":{"field":"a","type":"quantitative","scale":{"domain":[-180,180],"range":[161,1008],"nice":false,"zero":false},"axis":{"values":[-180,-150,-120,-90,-60,-30,0,30,60,90,120,150,180],"labelExpr":"datum.value >= 150 ? '' : '' + datum.value","title":"Crank angle [°]","labelFont":"Liberation Sans","titleFont":"Liberation Sans","labelFontSize":12,"titleFontSize":14,"tickSize":4,"labelPadding":5,"titlePadding":8,"grid":true,"gridColor":"#cccccc","gridWidth":1.8,"domainColor":"#999","tickColor":"#777","labelColor":"#333","titleColor":"#333"}},
"y":{"field":"v","type":"quantitative","scale":{"domain":[0,2.5],"nice":false,"zero":false},"axis":{"offset":-161,"values":[0,0.5,1,1.5,2,2.5],"labelExpr":"replace(format(datum.value,'.1f'),'.',',')","title":"Vibro, volt","labelFont":"Liberation Sans","titleFont":"Liberation Sans","labelFontSize":12,"titleFontSize":13,"tickSize":4,"labelPadding":3,"minExtent":28,"maxExtent":28,"titlePadding":11,"grid":true,"gridColor":"#cccccc","gridWidth":1.8,"domainColor":"#333","domainWidth":1.5,"tickColor":"#555","labelColor":"#333","titleColor":"#444"}},
"detail":{"field":"seg","type":"nominal"}}},
{"data":{"name":"ve"},"transform":[{"filter":"datum.ch==='B'"}],"mark":{"type":"line","color":"#9090f0","strokeWidth":1.2},"encoding":{"x":{"field":"a","type":"quantitative"},"y":{"field":"v","type":"quantitative"},"detail":{"field":"seg","type":"nominal"}}},
{"data":{"name":"one"},"mark":{"type":"rule","color":"#333","strokeWidth":1.5},"encoding":{"x":{"datum":180}}},
{"data":{"name":"one"},"mark":{"type":"point","shape":"M 0.858 0 C 0.858 0.552 0.474 1 0 1 C -0.474 1 -0.858 0.552 -0.858 0 C -0.858 -0.552 -0.474 -1 0 -1 C 0.474 -1 0.858 -0.552 0.858 0 Z","size":17956,"filled":false,"stroke":"#e82020","strokeWidth":1.5,"opacity":1},"encoding":{"x":{"datum":-148.8},"y":{"datum":0.459}}},
{"data":{"name":"one"},"mark":{"type":"rect","color":"white"},"encoding":{"x":{"datum":-178.3},"x2":{"datum":-39.3},"y":{"datum":1.68},"y2":{"datum":1.113}}},
{"data":{"name":"one"},"mark":{"type":"text","text":"Впускные клапана","align":"center","baseline":"middle","fontSize":22,"fontStyle":"italic","color":"#e82020"},"encoding":{"x":{"datum":-118.8},"y":{"datum":1.387}}},
{"data":{"name":"one"},"mark":{"type":"rect","fill":"white","stroke":"black","strokeWidth":1.5},"encoding":{"x":{"datum":144.7},"x2":{"datum":190.6},"y":{"datum":0.381},"y2":{"datum":-0.352}}},
{"data":{"name":"one"},"mark":{"type":"text","text":"e","align":"center","baseline":"middle","fontSize":32,"font":"Liberation Serif","fontWeight":"bold","color":"black"},"encoding":{"x":{"datum":167.6},"y":{"datum":0.02}}}
]
}
],
"spacing":49,
"bounds":"flush"
}
